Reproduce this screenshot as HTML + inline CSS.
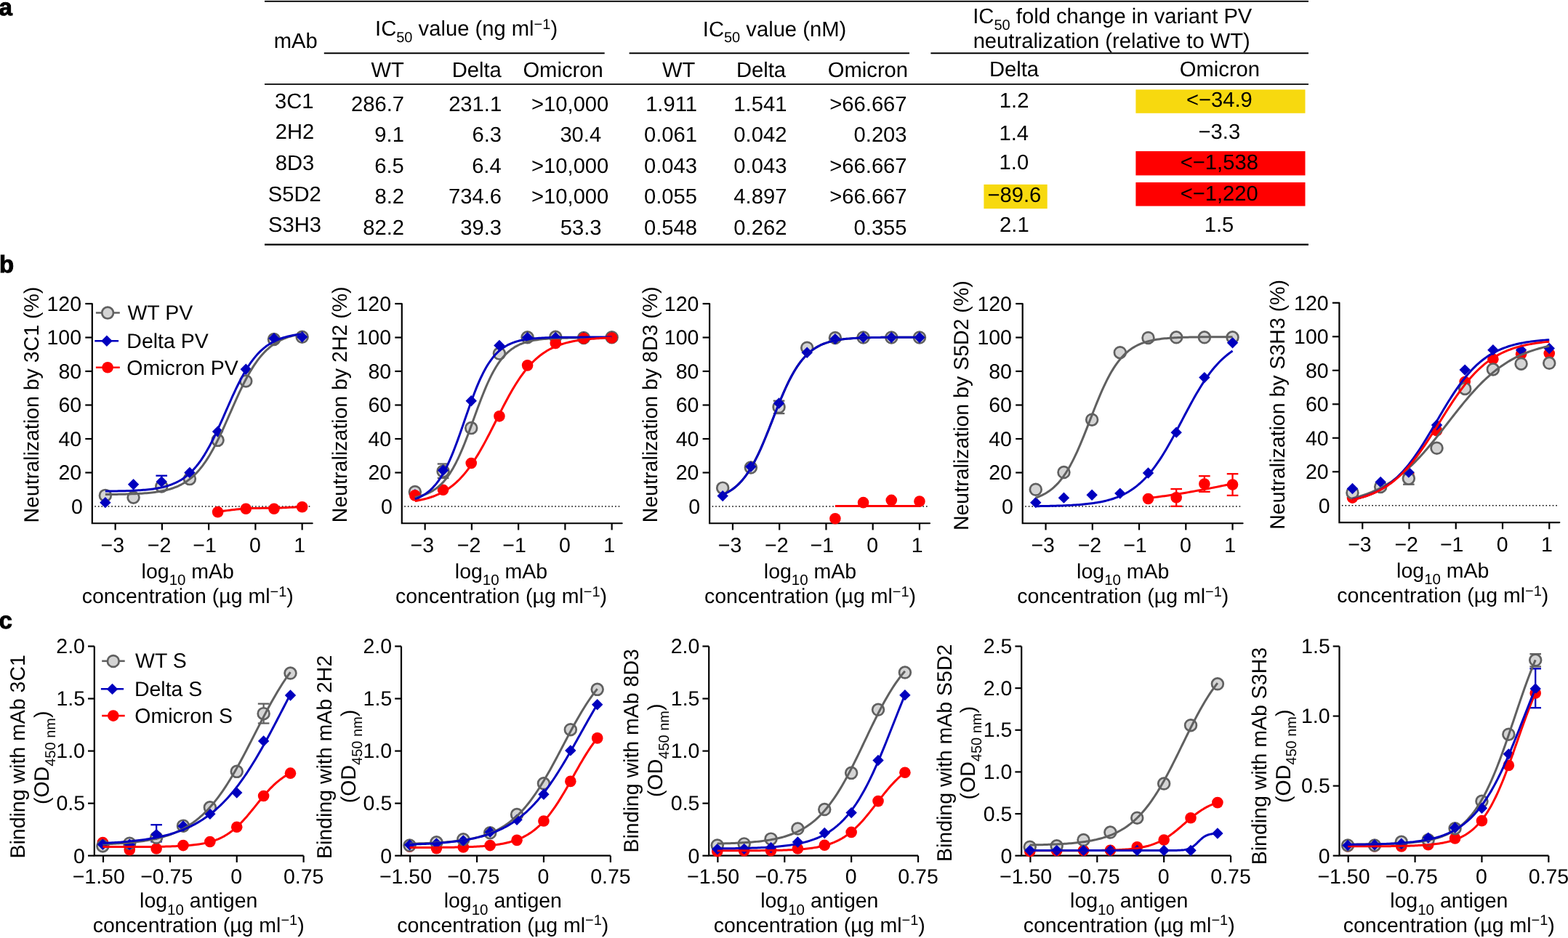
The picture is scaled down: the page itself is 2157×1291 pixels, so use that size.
<!DOCTYPE html>
<html><head><meta charset="utf-8"><title>Figure</title>
<style>
html,body{margin:0;padding:0;background:#fff;overflow:hidden;}
svg{display:block;}

</style></head>
<body>
<svg width="2157" height="1291" viewBox="0 0 2157 1291" font-family="'Liberation Sans', Arial, Helvetica, sans-serif" font-size="28.5" fill="#000" text-rendering="geometricPrecision">
<rect width="2157" height="1291" fill="#fff"/>
<rect x="364" y="0" width="1436" height="0.9" fill="#d8d8d8"/>
<line x1="364" y1="1.85" x2="1800" y2="1.85" stroke="#000" stroke-width="1.9" />
<line x1="445.8" y1="73.3" x2="831.7" y2="73.3" stroke="#000" stroke-width="1.9" />
<line x1="865.6" y1="73.3" x2="1251" y2="73.3" stroke="#000" stroke-width="1.9" />
<line x1="1280.4" y1="73.3" x2="1800" y2="73.3" stroke="#000" stroke-width="1.9" />
<line x1="364" y1="115.9" x2="1800" y2="115.9" stroke="#000" stroke-width="1.9" />
<line x1="364" y1="336.7" x2="1800" y2="336.7" stroke="#000" stroke-width="2.2" />
<rect x="1562.4" y="123.3" width="233.1" height="32.5" fill="#F7D90F"/>
<rect x="1562.4" y="208.1" width="233.1" height="33.3" fill="#FF0000"/>
<rect x="1562.4" y="251" width="233.1" height="32.6" fill="#FF0000"/>
<rect x="1353.4" y="253.9" width="87.3" height="33.3" fill="#F7D90F"/>
<text x="376.68" y="65.8" font-size="29.2" >mAb</text>
<text x="641.6" y="49.1" text-anchor="middle" font-size="29.2" >IC<tspan dy="8.6" font-size="20">50</tspan><tspan dy="-8.6"> value (ng ml<tspan dy="-9.6" font-size="20">−1</tspan><tspan dy="9.6">)</tspan></tspan></text>
<text x="1065.5" y="49.7" text-anchor="middle" font-size="29.2" >IC<tspan dy="8.6" font-size="20">50</tspan><tspan dy="-8.6"> value (nM)</tspan></text>
<text x="1530.3" y="31.9" text-anchor="middle" font-size="29.2" >IC<tspan dy="8.6" font-size="20">50</tspan><tspan dy="-8.6"> fold change in variant PV</tspan></text>
<text x="1338.64" y="65.8" font-size="29.2" >neutralization (relative to WT)</text>
<text x="510.5" y="105.8" font-size="29.2" >WT</text>
<text x="621.69" y="105.8" font-size="29.2" >Delta</text>
<text x="719.4" y="105.8" font-size="29.2" >Omicron</text>
<text x="911" y="105.8" font-size="29.2" >WT</text>
<text x="1012.89" y="105.8" font-size="29.2" >Delta</text>
<text x="1138.8" y="105.8" font-size="29.2" >Omicron</text>
<text x="1360.89" y="105.2" font-size="29.2" >Delta</text>
<text x="1622.8" y="105.2" font-size="29.2" >Omicron</text>
<text x="377.91" y="148.7" font-size="29.2" >3C1</text>
<text x="482.98" y="152.7" font-size="29.2" >286.7</text>
<text x="617.15" y="152.7" font-size="29.2" >231.1</text>
<text x="731.02" y="152.7" font-size="29.2" >&gt;10,000</text>
<text x="959" y="152.7" text-anchor="end" font-size="29.2" >1.911</text>
<text x="1082.4" y="152.7" text-anchor="end" font-size="29.2" >1.541</text>
<text x="1247.6" y="152.7" text-anchor="end" font-size="29.2" >&gt;66.667</text>
<text x="1374.81" y="148.1" font-size="29.2" >1.2</text>
<text x="1631.94" y="147.4" font-size="29.2" >&lt;−34.9</text>
<text x="378.69" y="191.1" font-size="29.2" >2H2</text>
<text x="515.35" y="195" font-size="29.2" >9.1</text>
<text x="649.52" y="195" font-size="29.2" >6.3</text>
<text x="770.4" y="195" font-size="29.2" >30.4</text>
<text x="959" y="195" text-anchor="end" font-size="29.2" >0.061</text>
<text x="1082.4" y="195" text-anchor="end" font-size="29.2" >0.042</text>
<text x="1247.6" y="195" text-anchor="end" font-size="29.2" >0.203</text>
<text x="1374.5" y="193" font-size="29.2" >1.4</text>
<text x="1648.56" y="190.8" font-size="29.2" >−3.3</text>
<text x="378.69" y="234" font-size="29.2" >8D3</text>
<text x="515.23" y="238" font-size="29.2" >6.5</text>
<text x="649.15" y="238" font-size="29.2" >6.4</text>
<text x="731.02" y="238" font-size="29.2" >&gt;10,000</text>
<text x="959" y="238" text-anchor="end" font-size="29.2" >0.043</text>
<text x="1082.4" y="238" text-anchor="end" font-size="29.2" >0.043</text>
<text x="1247.6" y="238" text-anchor="end" font-size="29.2" >&gt;66.667</text>
<text x="1374.62" y="233.4" font-size="29.2" >1.0</text>
<text x="1623.75" y="233.4" font-size="29.2" >&lt;−1,538</text>
<text x="368.7" y="276.6" font-size="29.2" >S5D2</text>
<text x="515.48" y="280.4" font-size="29.2" >8.2</text>
<text x="617.02" y="280.4" font-size="29.2" >734.6</text>
<text x="731.02" y="280.4" font-size="29.2" >&gt;10,000</text>
<text x="959" y="280.4" text-anchor="end" font-size="29.2" >0.055</text>
<text x="1082.4" y="280.4" text-anchor="end" font-size="29.2" >4.897</text>
<text x="1247.6" y="280.4" text-anchor="end" font-size="29.2" >&gt;66.667</text>
<text x="1358.44" y="278.3" font-size="29.2" >−89.6</text>
<text x="1623.69" y="276.3" font-size="29.2" >&lt;−1,220</text>
<text x="369.07" y="319" font-size="29.2" >S3H3</text>
<text x="499.23" y="323" font-size="29.2" >82.2</text>
<text x="633.27" y="323" font-size="29.2" >39.3</text>
<text x="770.77" y="323" font-size="29.2" >53.3</text>
<text x="959" y="323" text-anchor="end" font-size="29.2" >0.548</text>
<text x="1082.4" y="323" text-anchor="end" font-size="29.2" >0.262</text>
<text x="1247.6" y="323" text-anchor="end" font-size="29.2" >0.355</text>
<text x="1375.12" y="319.3" font-size="29.2" >2.1</text>
<text x="1656.69" y="318.5" font-size="29.2" >1.5</text>
<text x="-1.6" y="20.6" font-size="33" font-weight="bold" stroke="#000" stroke-width="1">a</text>
<text x="-1.0" y="374.6" font-size="33" font-weight="bold" stroke="#000" stroke-width="1">b</text>
<text x="-1.6" y="865.4" font-size="33" font-weight="bold" stroke="#000" stroke-width="1">c</text>
<line x1="130.3" y1="697" x2="427.5" y2="697" stroke="#000" stroke-width="1.6" stroke-dasharray="1.6 3"/>
<path d="M126.8 418V720.25H429.7" fill="none" stroke="#000" stroke-width="2.2" stroke-linejoin="miter" stroke-linecap="round"/>
<text x="98.05" y="706.81" >0</text>
<line x1="117.3" y1="650.5" x2="126.8" y2="650.5" stroke="#000" stroke-width="2.2" />
<text x="80.38" y="660.31" >20</text>
<line x1="117.3" y1="604" x2="126.8" y2="604" stroke="#000" stroke-width="2.2" />
<text x="80.38" y="613.81" >40</text>
<line x1="117.3" y1="557.5" x2="126.8" y2="557.5" stroke="#000" stroke-width="2.2" />
<text x="80.38" y="567.31" >60</text>
<line x1="117.3" y1="511" x2="126.8" y2="511" stroke="#000" stroke-width="2.2" />
<text x="80.38" y="520.81" >80</text>
<line x1="117.3" y1="464.5" x2="126.8" y2="464.5" stroke="#000" stroke-width="2.2" />
<text x="64.5" y="474.31" >100</text>
<line x1="117.3" y1="418" x2="126.8" y2="418" stroke="#000" stroke-width="2.2" />
<text x="64.5" y="427.81" >120</text>
<line x1="158.65" y1="720.25" x2="158.65" y2="729.45" stroke="#000" stroke-width="2.2" />
<text x="138.54" y="759.6" >−3</text>
<line x1="222.9" y1="720.25" x2="222.9" y2="729.45" stroke="#000" stroke-width="2.2" />
<text x="202.81" y="759.6" >−2</text>
<line x1="287.15" y1="720.25" x2="287.15" y2="729.45" stroke="#000" stroke-width="2.2" />
<text x="265.3" y="759.6" >−1</text>
<line x1="351.4" y1="720.25" x2="351.4" y2="729.45" stroke="#000" stroke-width="2.2" />
<text x="343.06" y="759.6" >0</text>
<line x1="415.65" y1="720.25" x2="415.65" y2="729.45" stroke="#000" stroke-width="2.2" />
<text x="404.34" y="759.6" >1</text>
<text transform="translate(52.8 557.1) rotate(-90)" text-anchor="middle">Neutralization by 3C1 (%)</text>
<text x="258.3" y="795.9" text-anchor="middle" >log<tspan dy="9.2" font-size="20.5">10</tspan><tspan dy="-9.2"> mAb</tspan></text>
<text x="258.3" y="830.1" text-anchor="middle" >concentration (µg ml<tspan dy="-9.6" font-size="20">−1</tspan><tspan dy="9.6">)</tspan></text>
<line x1="222.24" y1="654.7" x2="222.24" y2="671.3" stroke="#0000BE" stroke-width="2.3" />
<line x1="214.44" y1="654.7" x2="230.04" y2="654.7" stroke="#0000BE" stroke-width="2.3" />
<line x1="214.44" y1="671.3" x2="230.04" y2="671.3" stroke="#0000BE" stroke-width="2.3" />
<circle cx="144.87" cy="681.89" r="7.9" fill="#D4D4D4" stroke="#606060" stroke-width="2.7"/>
<circle cx="183.56" cy="684.68" r="7.9" fill="#D4D4D4" stroke="#606060" stroke-width="2.7"/>
<circle cx="222.24" cy="669.57" r="7.9" fill="#D4D4D4" stroke="#606060" stroke-width="2.7"/>
<circle cx="260.92" cy="659.1" r="7.9" fill="#D4D4D4" stroke="#606060" stroke-width="2.7"/>
<circle cx="299.6" cy="605.86" r="7.9" fill="#D4D4D4" stroke="#606060" stroke-width="2.7"/>
<circle cx="338.29" cy="524.49" r="7.9" fill="#D4D4D4" stroke="#606060" stroke-width="2.7"/>
<circle cx="376.97" cy="467.06" r="7.9" fill="#D4D4D4" stroke="#606060" stroke-width="2.7"/>
<circle cx="415.65" cy="463.8" r="7.9" fill="#D4D4D4" stroke="#606060" stroke-width="2.7"/>
<path d="M144.87 683.95L152.57 691.65L144.87 699.35L137.17 691.65Z" fill="#0000BE"/>
<path d="M183.56 659.07L191.26 666.77L183.56 674.48L175.86 666.77Z" fill="#0000BE"/>
<path d="M222.24 655.35L229.94 663.05L222.24 670.75L214.54 663.05Z" fill="#0000BE"/>
<path d="M260.92 642.8L268.62 650.5L260.92 658.2L253.22 650.5Z" fill="#0000BE"/>
<path d="M299.6 586.3L307.3 594L299.6 601.7L291.9 594Z" fill="#0000BE"/>
<path d="M338.29 500.51L345.99 508.21L338.29 515.91L330.59 508.21Z" fill="#0000BE"/>
<path d="M376.97 457.96L384.67 465.66L376.97 473.36L369.27 465.66Z" fill="#0000BE"/>
<path d="M415.65 456.1L423.35 463.8L415.65 471.5L407.95 463.8Z" fill="#0000BE"/>
<circle cx="299.6" cy="704.67" r="7.8" fill="#FF0000"/>
<circle cx="338.29" cy="700.25" r="7.8" fill="#FF0000"/>
<circle cx="376.97" cy="700.25" r="7.8" fill="#FF0000"/>
<circle cx="415.65" cy="697.7" r="7.8" fill="#FF0000"/>
<path d="M144.87 680.6 L147.15 680.58 L149.42 680.56 L151.7 680.53 L153.98 680.5 L156.25 680.47 L158.53 680.44 L160.8 680.4 L163.08 680.36 L165.35 680.32 L167.63 680.27 L169.9 680.22 L172.18 680.16 L174.45 680.1 L176.73 680.03 L179.01 679.96 L181.28 679.87 L183.56 679.78 L185.83 679.68 L188.11 679.57 L190.38 679.45 L192.66 679.32 L194.93 679.18 L197.21 679.03 L199.48 678.85 L201.76 678.67 L204.03 678.46 L206.31 678.24 L208.59 677.99 L210.86 677.72 L213.14 677.43 L215.41 677.11 L217.69 676.76 L219.96 676.38 L222.24 675.96 L224.51 675.5 L226.79 675.01 L229.06 674.46 L231.34 673.87 L233.62 673.22 L235.89 672.52 L238.17 671.76 L240.44 670.92 L242.72 670.02 L244.99 669.03 L247.27 667.96 L249.54 666.8 L251.82 665.55 L254.09 664.19 L256.37 662.72 L258.65 661.13 L260.92 659.41 L263.2 657.57 L265.47 655.58 L267.75 653.45 L270.02 651.16 L272.3 648.72 L274.57 646.11 L276.85 643.32 L279.12 640.37 L281.4 637.23 L283.67 633.91 L285.95 630.41 L288.23 626.72 L290.5 622.86 L292.78 618.81 L295.05 614.6 L297.33 610.23 L299.6 605.7 L301.88 601.04 L304.15 596.24 L306.43 591.33 L308.7 586.34 L310.98 581.26 L313.26 576.13 L315.53 570.97 L317.81 565.79 L320.08 560.63 L322.36 555.49 L324.63 550.41 L326.91 545.4 L329.18 540.48 L331.46 535.67 L333.73 530.98 L336.01 526.44 L338.29 522.04 L340.56 517.81 L342.84 513.75 L345.11 509.86 L347.39 506.15 L349.66 502.62 L351.94 499.28 L354.21 496.12 L356.49 493.14 L358.76 490.33 L361.04 487.7 L363.32 485.23 L365.59 482.92 L367.87 480.77 L370.14 478.77 L372.42 476.9 L374.69 475.17 L376.97 473.57 L379.24 472.08 L381.52 470.71 L383.79 469.44 L386.07 468.27 L388.34 467.19 L390.62 466.19 L392.9 465.27 L395.17 464.43 L397.45 463.66 L399.72 462.95 L402 462.29 L404.27 461.69 L406.55 461.14 L408.82 460.64 L411.1 460.18 L413.37 459.76 L415.65 459.37" fill="none" stroke="#606060" stroke-width="3.0" stroke-linejoin="round"/>
<path d="M144.87 676.11 L147.15 676.09 L149.42 676.06 L151.7 676.04 L153.98 676.01 L156.25 675.98 L158.53 675.94 L160.8 675.9 L163.08 675.86 L165.35 675.81 L167.63 675.76 L169.9 675.7 L172.18 675.64 L174.45 675.57 L176.73 675.49 L179.01 675.41 L181.28 675.32 L183.56 675.22 L185.83 675.11 L188.11 674.99 L190.38 674.85 L192.66 674.71 L194.93 674.55 L197.21 674.37 L199.48 674.18 L201.76 673.97 L204.03 673.73 L206.31 673.48 L208.59 673.2 L210.86 672.89 L213.14 672.56 L215.41 672.19 L217.69 671.79 L219.96 671.35 L222.24 670.86 L224.51 670.34 L226.79 669.76 L229.06 669.13 L231.34 668.44 L233.62 667.69 L235.89 666.86 L238.17 665.97 L240.44 664.99 L242.72 663.93 L244.99 662.78 L247.27 661.53 L249.54 660.17 L251.82 658.69 L254.09 657.09 L256.37 655.37 L258.65 653.5 L260.92 651.5 L263.2 649.34 L265.47 647.02 L267.75 644.53 L270.02 641.87 L272.3 639.03 L274.57 636.01 L276.85 632.81 L279.12 629.42 L281.4 625.83 L283.67 622.06 L285.95 618.11 L288.23 613.98 L290.5 609.67 L292.78 605.2 L295.05 600.58 L297.33 595.83 L299.6 590.95 L301.88 585.97 L304.15 580.91 L306.43 575.78 L308.7 570.61 L310.98 565.43 L313.26 560.25 L315.53 555.1 L317.81 550 L320.08 544.97 L322.36 540.03 L324.63 535.21 L326.91 530.52 L329.18 525.97 L331.46 521.57 L333.73 517.35 L336.01 513.29 L338.29 509.43 L340.56 505.74 L342.84 502.25 L345.11 498.94 L347.39 495.82 L349.66 492.89 L351.94 490.13 L354.21 487.56 L356.49 485.15 L358.76 482.9 L361.04 480.81 L363.32 478.87 L365.59 477.08 L367.87 475.41 L370.14 473.87 L372.42 472.45 L374.69 471.14 L376.97 469.93 L379.24 468.82 L381.52 467.8 L383.79 466.87 L386.07 466.01 L388.34 465.22 L390.62 464.5 L392.9 463.83 L395.17 463.23 L397.45 462.67 L399.72 462.17 L402 461.71 L404.27 461.28 L406.55 460.9 L408.82 460.54 L411.1 460.22 L413.37 459.93 L415.65 459.66" fill="none" stroke="#0000BE" stroke-width="3.0" stroke-linejoin="round"/>
<path d="M299.8 704.2 L303 703.83 L306.2 703.44 L309.39 703.04 L312.59 702.63 L315.78 702.23 L318.98 701.82 L322.18 701.44 L325.38 701.07 L328.58 700.72 L331.78 700.41 L334.99 700.13 L338.2 699.9 L341.41 699.72 L344.63 699.58 L347.85 699.49 L351.07 699.43 L354.29 699.39 L357.51 699.38 L360.74 699.37 L363.97 699.36 L367.2 699.35 L370.43 699.32 L373.66 699.27 L376.9 699.2 L380.14 699.1 L383.38 699 L386.63 698.88 L389.88 698.76 L393.13 698.63 L396.38 698.5 L399.63 698.37 L402.89 698.23 L406.14 698.09 L409.4 697.96 L412.65 697.83 L415.9 697.7" fill="none" stroke="#FF0000" stroke-width="3.0" stroke-linejoin="round"/>
<line x1="131.9" y1="430.5" x2="164.8" y2="430.5" stroke="#606060" stroke-width="2.6" />
<circle cx="148.1" cy="430.6" r="7.9" fill="#D4D4D4" stroke="#606060" stroke-width="2.7"/>
<text x="175.47" y="440" >WT PV</text>
<line x1="130.3" y1="469.2" x2="163.1" y2="469.2" stroke="#0000BE" stroke-width="2.6" />
<path d="M146.9 461.5L154.6 469.2L146.9 476.9L139.2 469.2Z" fill="#0000BE"/>
<text x="174.32" y="478.8" >Delta PV</text>
<line x1="131.9" y1="505.7" x2="164.8" y2="505.7" stroke="#FF0000" stroke-width="2.6" />
<circle cx="148.1" cy="505.7" r="7.8" fill="#FF0000"/>
<text x="174.22" y="515.5" >Omicron PV</text>
<line x1="556.3" y1="697" x2="853.5" y2="697" stroke="#000" stroke-width="1.6" stroke-dasharray="1.6 3"/>
<path d="M552.8 418V720.25H855.7" fill="none" stroke="#000" stroke-width="2.2" stroke-linejoin="miter" stroke-linecap="round"/>
<text x="524.05" y="706.81" >0</text>
<line x1="543.3" y1="650.5" x2="552.8" y2="650.5" stroke="#000" stroke-width="2.2" />
<text x="506.38" y="660.31" >20</text>
<line x1="543.3" y1="604" x2="552.8" y2="604" stroke="#000" stroke-width="2.2" />
<text x="506.38" y="613.81" >40</text>
<line x1="543.3" y1="557.5" x2="552.8" y2="557.5" stroke="#000" stroke-width="2.2" />
<text x="506.38" y="567.31" >60</text>
<line x1="543.3" y1="511" x2="552.8" y2="511" stroke="#000" stroke-width="2.2" />
<text x="506.38" y="520.81" >80</text>
<line x1="543.3" y1="464.5" x2="552.8" y2="464.5" stroke="#000" stroke-width="2.2" />
<text x="490.5" y="474.31" >100</text>
<line x1="543.3" y1="418" x2="552.8" y2="418" stroke="#000" stroke-width="2.2" />
<text x="490.5" y="427.81" >120</text>
<line x1="584.65" y1="720.25" x2="584.65" y2="729.45" stroke="#000" stroke-width="2.2" />
<text x="564.54" y="759.6" >−3</text>
<line x1="648.9" y1="720.25" x2="648.9" y2="729.45" stroke="#000" stroke-width="2.2" />
<text x="628.81" y="759.6" >−2</text>
<line x1="713.15" y1="720.25" x2="713.15" y2="729.45" stroke="#000" stroke-width="2.2" />
<text x="691.3" y="759.6" >−1</text>
<line x1="777.4" y1="720.25" x2="777.4" y2="729.45" stroke="#000" stroke-width="2.2" />
<text x="769.06" y="759.6" >0</text>
<line x1="841.65" y1="720.25" x2="841.65" y2="729.45" stroke="#000" stroke-width="2.2" />
<text x="830.34" y="759.6" >1</text>
<text transform="translate(476.6 556.8) rotate(-90)" text-anchor="middle">Neutralization by 2H2 (%)</text>
<text x="689.5" y="795.9" text-anchor="middle" >log<tspan dy="9.2" font-size="20.5">10</tspan><tspan dy="-9.2"> mAb</tspan></text>
<text x="689.5" y="830.1" text-anchor="middle" >concentration (µg ml<tspan dy="-9.6" font-size="20">−1</tspan><tspan dy="9.6">)</tspan></text>
<line x1="609.56" y1="638.5" x2="609.56" y2="658" stroke="#606060" stroke-width="2.3" />
<line x1="601.76" y1="638.5" x2="617.36" y2="638.5" stroke="#606060" stroke-width="2.3" />
<line x1="601.76" y1="658" x2="617.36" y2="658" stroke="#606060" stroke-width="2.3" />
<circle cx="570.87" cy="677" r="7.9" fill="#D4D4D4" stroke="#606060" stroke-width="2.7"/>
<circle cx="609.56" cy="648.64" r="7.9" fill="#D4D4D4" stroke="#606060" stroke-width="2.7"/>
<circle cx="648.24" cy="589.12" r="7.9" fill="#D4D4D4" stroke="#606060" stroke-width="2.7"/>
<circle cx="686.92" cy="486.59" r="7.9" fill="#D4D4D4" stroke="#606060" stroke-width="2.7"/>
<circle cx="725.6" cy="464.27" r="7.9" fill="#D4D4D4" stroke="#606060" stroke-width="2.7"/>
<circle cx="764.29" cy="463.8" r="7.9" fill="#D4D4D4" stroke="#606060" stroke-width="2.7"/>
<circle cx="802.97" cy="464.96" r="7.9" fill="#D4D4D4" stroke="#606060" stroke-width="2.7"/>
<circle cx="841.65" cy="464.27" r="7.9" fill="#D4D4D4" stroke="#606060" stroke-width="2.7"/>
<path d="M570.87 673.02L578.57 680.73L570.87 688.43L563.17 680.73Z" fill="#0000BE"/>
<path d="M609.56 639.54L617.26 647.25L609.56 654.95L601.86 647.25Z" fill="#0000BE"/>
<path d="M648.24 543.99L655.94 551.69L648.24 559.39L640.54 551.69Z" fill="#0000BE"/>
<path d="M686.92 467.73L694.62 475.43L686.92 483.13L679.22 475.43Z" fill="#0000BE"/>
<path d="M725.6 456.8L733.3 464.5L725.6 472.2L717.9 464.5Z" fill="#0000BE"/>
<path d="M764.29 456.8L771.99 464.5L764.29 472.2L756.59 464.5Z" fill="#0000BE"/>
<path d="M802.97 456.8L810.67 464.5L802.97 472.2L795.27 464.5Z" fill="#0000BE"/>
<path d="M841.65 456.8L849.35 464.5L841.65 472.2L833.95 464.5Z" fill="#0000BE"/>
<circle cx="570.87" cy="681.89" r="7.8" fill="#FF0000"/>
<circle cx="609.56" cy="674.22" r="7.8" fill="#FF0000"/>
<circle cx="648.24" cy="637.48" r="7.8" fill="#FF0000"/>
<circle cx="686.92" cy="572.85" r="7.8" fill="#FF0000"/>
<circle cx="725.6" cy="502.86" r="7.8" fill="#FF0000"/>
<circle cx="764.29" cy="472.4" r="7.8" fill="#FF0000"/>
<circle cx="802.97" cy="465.66" r="7.8" fill="#FF0000"/>
<circle cx="841.65" cy="464.96" r="7.8" fill="#FF0000"/>
<path d="M570.87 684.41 L573.15 683.93 L575.42 683.41 L577.7 682.82 L579.98 682.17 L582.25 681.44 L584.53 680.64 L586.8 679.74 L589.08 678.75 L591.35 677.65 L593.63 676.43 L595.9 675.09 L598.18 673.6 L600.45 671.97 L602.73 670.16 L605.01 668.18 L607.28 666.01 L609.56 663.64 L611.83 661.05 L614.11 658.23 L616.38 655.17 L618.66 651.86 L620.93 648.28 L623.21 644.45 L625.48 640.34 L627.76 635.96 L630.03 631.31 L632.31 626.39 L634.59 621.23 L636.86 615.83 L639.14 610.21 L641.41 604.4 L643.69 598.43 L645.96 592.32 L648.24 586.12 L650.51 579.86 L652.79 573.57 L655.06 567.31 L657.34 561.1 L659.62 554.99 L661.89 549.01 L664.17 543.19 L666.44 537.57 L668.72 532.16 L670.99 526.99 L673.27 522.07 L675.54 517.41 L677.82 513.02 L680.09 508.9 L682.37 505.05 L684.65 501.47 L686.92 498.15 L689.2 495.08 L691.47 492.25 L693.75 489.65 L696.02 487.27 L698.3 485.09 L700.57 483.11 L702.85 481.3 L705.12 479.65 L707.4 478.16 L709.67 476.81 L711.95 475.59 L714.23 474.49 L716.5 473.49 L718.78 472.59 L721.05 471.79 L723.33 471.06 L725.6 470.4 L727.88 469.81 L730.15 469.29 L732.43 468.81 L734.7 468.38 L736.98 468 L739.26 467.66 L741.53 467.35 L743.81 467.08 L746.08 466.83 L748.36 466.61 L750.63 466.41 L752.91 466.24 L755.18 466.08 L757.46 465.94 L759.73 465.81 L762.01 465.69 L764.29 465.59 L766.56 465.5 L768.84 465.42 L771.11 465.35 L773.39 465.28 L775.66 465.23 L777.94 465.17 L780.21 465.13 L782.49 465.09 L784.76 465.05 L787.04 465.02 L789.32 464.99 L791.59 464.96 L793.87 464.94 L796.14 464.91 L798.42 464.9 L800.69 464.88 L802.97 464.86 L805.24 464.85 L807.52 464.84 L809.79 464.83 L812.07 464.82 L814.34 464.81 L816.62 464.8 L818.9 464.79 L821.17 464.79 L823.45 464.78 L825.72 464.78 L828 464.77 L830.27 464.77 L832.55 464.77 L834.82 464.76 L837.1 464.76 L839.37 464.76 L841.65 464.75" fill="none" stroke="#606060" stroke-width="3.0" stroke-linejoin="round"/>
<path d="M570.87 686.88 L573.15 686.04 L575.42 685.11 L577.7 684.08 L579.98 682.93 L582.25 681.65 L584.53 680.23 L586.8 678.67 L589.08 676.94 L591.35 675.03 L593.63 672.93 L595.9 670.62 L598.18 668.09 L600.45 665.33 L602.73 662.31 L605.01 659.04 L607.28 655.49 L609.56 651.66 L611.83 647.54 L614.11 643.12 L616.38 638.42 L618.66 633.42 L620.93 628.15 L623.21 622.61 L625.48 616.82 L627.76 610.81 L630.03 604.61 L632.31 598.25 L634.59 591.76 L636.86 585.19 L639.14 578.57 L641.41 571.97 L643.69 565.4 L645.96 558.93 L648.24 552.58 L650.51 546.4 L652.79 540.42 L655.06 534.67 L657.34 529.16 L659.62 523.93 L661.89 518.97 L664.17 514.3 L666.44 509.93 L668.72 505.85 L670.99 502.05 L673.27 498.54 L675.54 495.3 L677.82 492.32 L680.09 489.59 L682.37 487.09 L684.65 484.81 L686.92 482.73 L689.2 480.85 L691.47 479.14 L693.75 477.6 L696.02 476.2 L698.3 474.94 L700.57 473.81 L702.85 472.79 L705.12 471.87 L707.4 471.05 L709.67 470.31 L711.95 469.64 L714.23 469.05 L716.5 468.51 L718.78 468.04 L721.05 467.61 L723.33 467.23 L725.6 466.89 L727.88 466.58 L730.15 466.31 L732.43 466.06 L734.7 465.85 L736.98 465.65 L739.26 465.48 L741.53 465.33 L743.81 465.19 L746.08 465.06 L748.36 464.95 L750.63 464.86 L752.91 464.77 L755.18 464.69 L757.46 464.62 L759.73 464.56 L762.01 464.5 L764.29 464.45 L766.56 464.41 L768.84 464.37 L771.11 464.34 L773.39 464.3 L775.66 464.28 L777.94 464.25 L780.21 464.23 L782.49 464.21 L784.76 464.19 L787.04 464.18 L789.32 464.16 L791.59 464.15 L793.87 464.14 L796.14 464.13 L798.42 464.12 L800.69 464.11 L802.97 464.11 L805.24 464.1 L807.52 464.09 L809.79 464.09 L812.07 464.09 L814.34 464.08 L816.62 464.08 L818.9 464.07 L821.17 464.07 L823.45 464.07 L825.72 464.07 L828 464.07 L830.27 464.06 L832.55 464.06 L834.82 464.06 L837.1 464.06 L839.37 464.06 L841.65 464.06" fill="none" stroke="#0000BE" stroke-width="3.0" stroke-linejoin="round"/>
<path d="M570.87 689.58 L573.15 689.19 L575.42 688.77 L577.7 688.32 L579.98 687.83 L582.25 687.31 L584.53 686.75 L586.8 686.14 L589.08 685.49 L591.35 684.79 L593.63 684.04 L595.9 683.24 L598.18 682.37 L600.45 681.44 L602.73 680.45 L605.01 679.38 L607.28 678.24 L609.56 677.02 L611.83 675.71 L614.11 674.32 L616.38 672.83 L618.66 671.25 L620.93 669.56 L623.21 667.77 L625.48 665.86 L627.76 663.84 L630.03 661.71 L632.31 659.44 L634.59 657.05 L636.86 654.54 L639.14 651.88 L641.41 649.1 L643.69 646.18 L645.96 643.12 L648.24 639.93 L650.51 636.6 L652.79 633.15 L655.06 629.56 L657.34 625.85 L659.62 622.01 L661.89 618.07 L664.17 614.02 L666.44 609.87 L668.72 605.63 L670.99 601.32 L673.27 596.95 L675.54 592.52 L677.82 588.05 L680.09 583.55 L682.37 579.04 L684.65 574.53 L686.92 570.03 L689.2 565.56 L691.47 561.14 L693.75 556.76 L696.02 552.46 L698.3 548.23 L700.57 544.08 L702.85 540.04 L705.12 536.1 L707.4 532.28 L709.67 528.57 L711.95 524.99 L714.23 521.54 L716.5 518.22 L718.78 515.04 L721.05 511.99 L723.33 509.08 L725.6 506.3 L727.88 503.66 L730.15 501.15 L732.43 498.77 L734.7 496.52 L736.98 494.39 L739.26 492.37 L741.53 490.48 L743.81 488.69 L746.08 487.01 L748.36 485.43 L750.63 483.95 L752.91 482.57 L755.18 481.27 L757.46 480.05 L759.73 478.91 L762.01 477.85 L764.29 476.86 L766.56 475.94 L768.84 475.07 L771.11 474.27 L773.39 473.52 L775.66 472.83 L777.94 472.18 L780.21 471.58 L782.49 471.02 L784.76 470.5 L787.04 470.01 L789.32 469.57 L791.59 469.15 L793.87 468.76 L796.14 468.4 L798.42 468.07 L800.69 467.76 L802.97 467.48 L805.24 467.21 L807.52 466.97 L809.79 466.74 L812.07 466.53 L814.34 466.33 L816.62 466.15 L818.9 465.98 L821.17 465.83 L823.45 465.69 L825.72 465.55 L828 465.43 L830.27 465.32 L832.55 465.21 L834.82 465.11 L837.1 465.02 L839.37 464.94 L841.65 464.86" fill="none" stroke="#FF0000" stroke-width="3.0" stroke-linejoin="round"/>
<line x1="979.6" y1="697" x2="1276.8" y2="697" stroke="#000" stroke-width="1.6" stroke-dasharray="1.6 3"/>
<path d="M976.1 418V720.25H1279" fill="none" stroke="#000" stroke-width="2.2" stroke-linejoin="miter" stroke-linecap="round"/>
<text x="947.35" y="706.81" >0</text>
<line x1="966.6" y1="650.5" x2="976.1" y2="650.5" stroke="#000" stroke-width="2.2" />
<text x="929.68" y="660.31" >20</text>
<line x1="966.6" y1="604" x2="976.1" y2="604" stroke="#000" stroke-width="2.2" />
<text x="929.68" y="613.81" >40</text>
<line x1="966.6" y1="557.5" x2="976.1" y2="557.5" stroke="#000" stroke-width="2.2" />
<text x="929.68" y="567.31" >60</text>
<line x1="966.6" y1="511" x2="976.1" y2="511" stroke="#000" stroke-width="2.2" />
<text x="929.68" y="520.81" >80</text>
<line x1="966.6" y1="464.5" x2="976.1" y2="464.5" stroke="#000" stroke-width="2.2" />
<text x="913.8" y="474.31" >100</text>
<line x1="966.6" y1="418" x2="976.1" y2="418" stroke="#000" stroke-width="2.2" />
<text x="913.8" y="427.81" >120</text>
<line x1="1007.95" y1="720.25" x2="1007.95" y2="729.45" stroke="#000" stroke-width="2.2" />
<text x="987.84" y="759.6" >−3</text>
<line x1="1072.2" y1="720.25" x2="1072.2" y2="729.45" stroke="#000" stroke-width="2.2" />
<text x="1052.11" y="759.6" >−2</text>
<line x1="1136.45" y1="720.25" x2="1136.45" y2="729.45" stroke="#000" stroke-width="2.2" />
<text x="1114.6" y="759.6" >−1</text>
<line x1="1200.7" y1="720.25" x2="1200.7" y2="729.45" stroke="#000" stroke-width="2.2" />
<text x="1192.36" y="759.6" >0</text>
<line x1="1264.95" y1="720.25" x2="1264.95" y2="729.45" stroke="#000" stroke-width="2.2" />
<text x="1253.64" y="759.6" >1</text>
<text transform="translate(903.7 556.8) rotate(-90)" text-anchor="middle">Neutralization by 8D3 (%)</text>
<text x="1114.5" y="795.9" text-anchor="middle" >log<tspan dy="9.2" font-size="20.5">10</tspan><tspan dy="-9.2"> mAb</tspan></text>
<text x="1114.5" y="830.1" text-anchor="middle" >concentration (µg ml<tspan dy="-9.6" font-size="20">−1</tspan><tspan dy="9.6">)</tspan></text>
<line x1="1071.54" y1="551.7" x2="1071.54" y2="569.1" stroke="#606060" stroke-width="2.3" />
<line x1="1063.74" y1="551.7" x2="1079.34" y2="551.7" stroke="#606060" stroke-width="2.3" />
<line x1="1063.74" y1="569.1" x2="1079.34" y2="569.1" stroke="#606060" stroke-width="2.3" />
<circle cx="994.17" cy="671.66" r="7.9" fill="#D4D4D4" stroke="#606060" stroke-width="2.7"/>
<circle cx="1032.86" cy="643.52" r="7.9" fill="#D4D4D4" stroke="#606060" stroke-width="2.7"/>
<circle cx="1071.54" cy="560.29" r="7.9" fill="#D4D4D4" stroke="#606060" stroke-width="2.7"/>
<circle cx="1110.22" cy="478.68" r="7.9" fill="#D4D4D4" stroke="#606060" stroke-width="2.7"/>
<circle cx="1148.9" cy="464.96" r="7.9" fill="#D4D4D4" stroke="#606060" stroke-width="2.7"/>
<circle cx="1187.59" cy="464.5" r="7.9" fill="#D4D4D4" stroke="#606060" stroke-width="2.7"/>
<circle cx="1226.27" cy="464.5" r="7.9" fill="#D4D4D4" stroke="#606060" stroke-width="2.7"/>
<circle cx="1264.95" cy="464.5" r="7.9" fill="#D4D4D4" stroke="#606060" stroke-width="2.7"/>
<path d="M994.17 674.88L1001.87 682.59L994.17 690.29L986.47 682.59Z" fill="#0000BE"/>
<path d="M1032.86 634.66L1040.56 642.36L1032.86 650.06L1025.16 642.36Z" fill="#0000BE"/>
<path d="M1071.54 547.24L1079.24 554.94L1071.54 562.64L1063.84 554.94Z" fill="#0000BE"/>
<path d="M1110.22 477.49L1117.92 485.19L1110.22 492.89L1102.52 485.19Z" fill="#0000BE"/>
<path d="M1148.9 458.89L1156.6 466.59L1148.9 474.29L1141.2 466.59Z" fill="#0000BE"/>
<path d="M1187.59 456.8L1195.29 464.5L1187.59 472.2L1179.89 464.5Z" fill="#0000BE"/>
<path d="M1226.27 456.8L1233.97 464.5L1226.27 472.2L1218.57 464.5Z" fill="#0000BE"/>
<path d="M1264.95 456.8L1272.65 464.5L1264.95 472.2L1257.25 464.5Z" fill="#0000BE"/>
<circle cx="1148.9" cy="713.74" r="7.8" fill="#FF0000"/>
<circle cx="1187.59" cy="691.65" r="7.8" fill="#FF0000"/>
<circle cx="1226.27" cy="688.4" r="7.8" fill="#FF0000"/>
<circle cx="1264.95" cy="690.02" r="7.8" fill="#FF0000"/>
<path d="M994.17 680.82 L996.45 679.82 L998.72 678.73 L1001 677.53 L1003.28 676.22 L1005.55 674.78 L1007.83 673.21 L1010.1 671.5 L1012.38 669.63 L1014.65 667.6 L1016.93 665.39 L1019.2 663.01 L1021.48 660.42 L1023.75 657.64 L1026.03 654.64 L1028.31 651.43 L1030.58 647.99 L1032.86 644.32 L1035.13 640.42 L1037.41 636.29 L1039.68 631.93 L1041.96 627.35 L1044.23 622.56 L1046.51 617.56 L1048.78 612.38 L1051.06 607.03 L1053.33 601.54 L1055.61 595.92 L1057.89 590.2 L1060.16 584.42 L1062.44 578.6 L1064.71 572.77 L1066.99 566.97 L1069.26 561.22 L1071.54 555.55 L1073.81 550 L1076.09 544.58 L1078.36 539.32 L1080.64 534.24 L1082.92 529.35 L1085.19 524.67 L1087.47 520.22 L1089.74 515.98 L1092.02 511.98 L1094.29 508.2 L1096.57 504.66 L1098.84 501.34 L1101.12 498.25 L1103.39 495.37 L1105.67 492.7 L1107.95 490.22 L1110.22 487.93 L1112.5 485.83 L1114.77 483.89 L1117.05 482.1 L1119.32 480.47 L1121.6 478.97 L1123.87 477.61 L1126.15 476.36 L1128.42 475.22 L1130.7 474.18 L1132.97 473.23 L1135.25 472.37 L1137.53 471.59 L1139.8 470.88 L1142.08 470.24 L1144.35 469.65 L1146.63 469.12 L1148.9 468.64 L1151.18 468.21 L1153.45 467.81 L1155.73 467.46 L1158 467.13 L1160.28 466.84 L1162.56 466.58 L1164.83 466.34 L1167.11 466.12 L1169.38 465.93 L1171.66 465.75 L1173.93 465.59 L1176.21 465.45 L1178.48 465.32 L1180.76 465.2 L1183.03 465.1 L1185.31 465 L1187.59 464.91 L1189.86 464.84 L1192.14 464.77 L1194.41 464.7 L1196.69 464.64 L1198.96 464.59 L1201.24 464.55 L1203.51 464.5 L1205.79 464.47 L1208.06 464.43 L1210.34 464.4 L1212.62 464.37 L1214.89 464.35 L1217.17 464.32 L1219.44 464.3 L1221.72 464.29 L1223.99 464.27 L1226.27 464.25 L1228.54 464.24 L1230.82 464.23 L1233.09 464.22 L1235.37 464.21 L1237.64 464.2 L1239.92 464.19 L1242.2 464.18 L1244.47 464.18 L1246.75 464.17 L1249.02 464.16 L1251.3 464.16 L1253.57 464.16 L1255.85 464.15 L1258.12 464.15 L1260.4 464.14 L1262.67 464.14 L1264.95 464.14" fill="none" stroke="#606060" stroke-width="3.0" stroke-linejoin="round"/>
<path d="M994.17 680.82 L996.45 679.82 L998.72 678.73 L1001 677.53 L1003.28 676.22 L1005.55 674.78 L1007.83 673.21 L1010.1 671.5 L1012.38 669.63 L1014.65 667.6 L1016.93 665.39 L1019.2 663.01 L1021.48 660.42 L1023.75 657.64 L1026.03 654.64 L1028.31 651.43 L1030.58 647.99 L1032.86 644.32 L1035.13 640.42 L1037.41 636.29 L1039.68 631.93 L1041.96 627.35 L1044.23 622.56 L1046.51 617.56 L1048.78 612.38 L1051.06 607.03 L1053.33 601.54 L1055.61 595.92 L1057.89 590.2 L1060.16 584.42 L1062.44 578.6 L1064.71 572.77 L1066.99 566.97 L1069.26 561.22 L1071.54 555.55 L1073.81 550 L1076.09 544.58 L1078.36 539.32 L1080.64 534.24 L1082.92 529.35 L1085.19 524.67 L1087.47 520.22 L1089.74 515.98 L1092.02 511.98 L1094.29 508.2 L1096.57 504.66 L1098.84 501.34 L1101.12 498.25 L1103.39 495.37 L1105.67 492.7 L1107.95 490.22 L1110.22 487.93 L1112.5 485.83 L1114.77 483.89 L1117.05 482.1 L1119.32 480.47 L1121.6 478.97 L1123.87 477.61 L1126.15 476.36 L1128.42 475.22 L1130.7 474.18 L1132.97 473.23 L1135.25 472.37 L1137.53 471.59 L1139.8 470.88 L1142.08 470.24 L1144.35 469.65 L1146.63 469.12 L1148.9 468.64 L1151.18 468.21 L1153.45 467.81 L1155.73 467.46 L1158 467.13 L1160.28 466.84 L1162.56 466.58 L1164.83 466.34 L1167.11 466.12 L1169.38 465.93 L1171.66 465.75 L1173.93 465.59 L1176.21 465.45 L1178.48 465.32 L1180.76 465.2 L1183.03 465.1 L1185.31 465 L1187.59 464.91 L1189.86 464.84 L1192.14 464.77 L1194.41 464.7 L1196.69 464.64 L1198.96 464.59 L1201.24 464.55 L1203.51 464.5 L1205.79 464.47 L1208.06 464.43 L1210.34 464.4 L1212.62 464.37 L1214.89 464.35 L1217.17 464.32 L1219.44 464.3 L1221.72 464.29 L1223.99 464.27 L1226.27 464.25 L1228.54 464.24 L1230.82 464.23 L1233.09 464.22 L1235.37 464.21 L1237.64 464.2 L1239.92 464.19 L1242.2 464.18 L1244.47 464.18 L1246.75 464.17 L1249.02 464.16 L1251.3 464.16 L1253.57 464.16 L1255.85 464.15 L1258.12 464.15 L1260.4 464.14 L1262.67 464.14 L1264.95 464.14" fill="none" stroke="#0000BE" stroke-width="3.0" stroke-linejoin="round"/>
<path d="M1148.9 696.6 L1158.57 696.6 L1168.24 696.6 L1177.91 696.6 L1187.59 696.6 L1197.26 696.6 L1206.93 696.6 L1216.6 696.6 L1226.27 696.6 L1235.94 696.6 L1245.61 696.6 L1255.28 696.6 L1264.95 696.6" fill="none" stroke="#FF0000" stroke-width="3.0" stroke-linejoin="round"/>
<line x1="1410.2" y1="697" x2="1707.4" y2="697" stroke="#000" stroke-width="1.6" stroke-dasharray="1.6 3"/>
<path d="M1406.7 418V720.25H1709.6" fill="none" stroke="#000" stroke-width="2.2" stroke-linejoin="miter" stroke-linecap="round"/>
<text x="1377.95" y="706.81" >0</text>
<line x1="1397.2" y1="650.5" x2="1406.7" y2="650.5" stroke="#000" stroke-width="2.2" />
<text x="1360.28" y="660.31" >20</text>
<line x1="1397.2" y1="604" x2="1406.7" y2="604" stroke="#000" stroke-width="2.2" />
<text x="1360.28" y="613.81" >40</text>
<line x1="1397.2" y1="557.5" x2="1406.7" y2="557.5" stroke="#000" stroke-width="2.2" />
<text x="1360.28" y="567.31" >60</text>
<line x1="1397.2" y1="511" x2="1406.7" y2="511" stroke="#000" stroke-width="2.2" />
<text x="1360.28" y="520.81" >80</text>
<line x1="1397.2" y1="464.5" x2="1406.7" y2="464.5" stroke="#000" stroke-width="2.2" />
<text x="1344.4" y="474.31" >100</text>
<line x1="1397.2" y1="418" x2="1406.7" y2="418" stroke="#000" stroke-width="2.2" />
<text x="1344.4" y="427.81" >120</text>
<line x1="1438.55" y1="720.25" x2="1438.55" y2="729.45" stroke="#000" stroke-width="2.2" />
<text x="1418.44" y="759.6" >−3</text>
<line x1="1502.8" y1="720.25" x2="1502.8" y2="729.45" stroke="#000" stroke-width="2.2" />
<text x="1482.71" y="759.6" >−2</text>
<line x1="1567.05" y1="720.25" x2="1567.05" y2="729.45" stroke="#000" stroke-width="2.2" />
<text x="1545.2" y="759.6" >−1</text>
<line x1="1631.3" y1="720.25" x2="1631.3" y2="729.45" stroke="#000" stroke-width="2.2" />
<text x="1622.96" y="759.6" >0</text>
<line x1="1695.55" y1="720.25" x2="1695.55" y2="729.45" stroke="#000" stroke-width="2.2" />
<text x="1684.24" y="759.6" >1</text>
<text transform="translate(1332.4 558.2) rotate(-90)" text-anchor="middle">Neutralization by S5D2 (%)</text>
<text x="1544.8" y="795.9" text-anchor="middle" >log<tspan dy="9.2" font-size="20.5">10</tspan><tspan dy="-9.2"> mAb</tspan></text>
<text x="1544.8" y="830.1" text-anchor="middle" >concentration (µg ml<tspan dy="-9.6" font-size="20">−1</tspan><tspan dy="9.6">)</tspan></text>
<line x1="1618.19" y1="673" x2="1618.19" y2="696.8" stroke="#FF0000" stroke-width="2.3" />
<line x1="1610.39" y1="673" x2="1625.99" y2="673" stroke="#FF0000" stroke-width="2.3" />
<line x1="1610.39" y1="696.8" x2="1625.99" y2="696.8" stroke="#FF0000" stroke-width="2.3" />
<line x1="1656.87" y1="655.2" x2="1656.87" y2="676.8" stroke="#FF0000" stroke-width="2.3" />
<line x1="1649.07" y1="655.2" x2="1664.67" y2="655.2" stroke="#FF0000" stroke-width="2.3" />
<line x1="1649.07" y1="676.8" x2="1664.67" y2="676.8" stroke="#FF0000" stroke-width="2.3" />
<line x1="1695.55" y1="652.2" x2="1695.55" y2="681.9" stroke="#FF0000" stroke-width="2.3" />
<line x1="1687.75" y1="652.2" x2="1703.35" y2="652.2" stroke="#FF0000" stroke-width="2.3" />
<line x1="1687.75" y1="681.9" x2="1703.35" y2="681.9" stroke="#FF0000" stroke-width="2.3" />
<circle cx="1424.77" cy="673.75" r="7.9" fill="#D4D4D4" stroke="#606060" stroke-width="2.7"/>
<circle cx="1463.46" cy="650.03" r="7.9" fill="#D4D4D4" stroke="#606060" stroke-width="2.7"/>
<circle cx="1502.14" cy="577.73" r="7.9" fill="#D4D4D4" stroke="#606060" stroke-width="2.7"/>
<circle cx="1540.82" cy="485.19" r="7.9" fill="#D4D4D4" stroke="#606060" stroke-width="2.7"/>
<circle cx="1579.5" cy="464.96" r="7.9" fill="#D4D4D4" stroke="#606060" stroke-width="2.7"/>
<circle cx="1618.19" cy="464.27" r="7.9" fill="#D4D4D4" stroke="#606060" stroke-width="2.7"/>
<circle cx="1656.87" cy="464.27" r="7.9" fill="#D4D4D4" stroke="#606060" stroke-width="2.7"/>
<circle cx="1695.55" cy="464.27" r="7.9" fill="#D4D4D4" stroke="#606060" stroke-width="2.7"/>
<path d="M1424.77 683.95L1432.47 691.65L1424.77 699.35L1417.07 691.65Z" fill="#0000BE"/>
<path d="M1463.46 677.44L1471.16 685.14L1463.46 692.84L1455.76 685.14Z" fill="#0000BE"/>
<path d="M1502.14 673.49L1509.84 681.19L1502.14 688.89L1494.44 681.19Z" fill="#0000BE"/>
<path d="M1540.82 671.4L1548.52 679.1L1540.82 686.8L1533.12 679.1Z" fill="#0000BE"/>
<path d="M1579.5 643.26L1587.2 650.97L1579.5 658.67L1571.8 650.97Z" fill="#0000BE"/>
<path d="M1618.19 587.46L1625.89 595.16L1618.19 602.87L1610.49 595.16Z" fill="#0000BE"/>
<path d="M1656.87 511.9L1664.57 519.6L1656.87 527.3L1649.17 519.6Z" fill="#0000BE"/>
<path d="M1695.55 464.01L1703.25 471.71L1695.55 479.41L1687.85 471.71Z" fill="#0000BE"/>
<circle cx="1579.5" cy="686.54" r="7.8" fill="#FF0000"/>
<circle cx="1618.19" cy="684.68" r="7.8" fill="#FF0000"/>
<circle cx="1656.87" cy="666.08" r="7.8" fill="#FF0000"/>
<circle cx="1695.55" cy="667.01" r="7.8" fill="#FF0000"/>
<path d="M1424.77 685.07 L1427.05 684.27 L1429.32 683.39 L1431.6 682.43 L1433.88 681.37 L1436.15 680.21 L1438.43 678.94 L1440.7 677.55 L1442.98 676.03 L1445.25 674.37 L1447.53 672.57 L1449.8 670.6 L1452.08 668.46 L1454.35 666.15 L1456.63 663.65 L1458.91 660.95 L1461.18 658.04 L1463.46 654.91 L1465.73 651.57 L1468.01 647.99 L1470.28 644.19 L1472.56 640.16 L1474.83 635.9 L1477.11 631.41 L1479.38 626.7 L1481.66 621.79 L1483.93 616.68 L1486.21 611.39 L1488.49 605.94 L1490.76 600.36 L1493.04 594.67 L1495.31 588.89 L1497.59 583.05 L1499.86 577.19 L1502.14 571.34 L1504.41 565.52 L1506.69 559.76 L1508.96 554.1 L1511.24 548.56 L1513.52 543.17 L1515.79 537.94 L1518.07 532.89 L1520.34 528.05 L1522.62 523.42 L1524.89 519.01 L1527.17 514.82 L1529.44 510.87 L1531.72 507.14 L1533.99 503.65 L1536.27 500.38 L1538.55 497.33 L1540.82 494.49 L1543.1 491.86 L1545.37 489.42 L1547.65 487.17 L1549.92 485.1 L1552.2 483.18 L1554.47 481.43 L1556.75 479.82 L1559.02 478.35 L1561.3 477 L1563.57 475.77 L1565.85 474.64 L1568.13 473.62 L1570.4 472.68 L1572.68 471.83 L1574.95 471.06 L1577.23 470.36 L1579.5 469.72 L1581.78 469.14 L1584.05 468.62 L1586.33 468.14 L1588.6 467.71 L1590.88 467.32 L1593.16 466.97 L1595.43 466.65 L1597.71 466.36 L1599.98 466.09 L1602.26 465.86 L1604.53 465.64 L1606.81 465.45 L1609.08 465.27 L1611.36 465.11 L1613.63 464.97 L1615.91 464.84 L1618.19 464.72 L1620.46 464.62 L1622.74 464.52 L1625.01 464.43 L1627.29 464.36 L1629.56 464.28 L1631.84 464.22 L1634.11 464.16 L1636.39 464.11 L1638.66 464.06 L1640.94 464.02 L1643.22 463.98 L1645.49 463.95 L1647.77 463.92 L1650.04 463.89 L1652.32 463.86 L1654.59 463.84 L1656.87 463.82 L1659.14 463.8 L1661.42 463.79 L1663.69 463.77 L1665.97 463.76 L1668.24 463.74 L1670.52 463.73 L1672.8 463.72 L1675.07 463.71 L1677.35 463.7 L1679.62 463.7 L1681.9 463.69 L1684.17 463.68 L1686.45 463.68 L1688.72 463.67 L1691 463.67 L1693.27 463.67 L1695.55 463.66" fill="none" stroke="#606060" stroke-width="3.0" stroke-linejoin="round"/>
<path d="M1424.77 696.69 L1427.05 696.67 L1429.32 696.64 L1431.6 696.61 L1433.88 696.57 L1436.15 696.53 L1438.43 696.49 L1440.7 696.45 L1442.98 696.41 L1445.25 696.36 L1447.53 696.3 L1449.8 696.25 L1452.08 696.19 L1454.35 696.12 L1456.63 696.05 L1458.91 695.97 L1461.18 695.89 L1463.46 695.8 L1465.73 695.71 L1468.01 695.61 L1470.28 695.5 L1472.56 695.38 L1474.83 695.25 L1477.11 695.12 L1479.38 694.97 L1481.66 694.81 L1483.93 694.64 L1486.21 694.46 L1488.49 694.27 L1490.76 694.06 L1493.04 693.83 L1495.31 693.59 L1497.59 693.33 L1499.86 693.05 L1502.14 692.75 L1504.41 692.43 L1506.69 692.09 L1508.96 691.72 L1511.24 691.32 L1513.52 690.9 L1515.79 690.44 L1518.07 689.95 L1520.34 689.43 L1522.62 688.87 L1524.89 688.27 L1527.17 687.63 L1529.44 686.94 L1531.72 686.21 L1533.99 685.43 L1536.27 684.59 L1538.55 683.69 L1540.82 682.74 L1543.1 681.72 L1545.37 680.63 L1547.65 679.47 L1549.92 678.24 L1552.2 676.93 L1554.47 675.54 L1556.75 674.06 L1559.02 672.5 L1561.3 670.83 L1563.57 669.08 L1565.85 667.21 L1568.13 665.25 L1570.4 663.18 L1572.68 660.99 L1574.95 658.69 L1577.23 656.28 L1579.5 653.74 L1581.78 651.08 L1584.05 648.31 L1586.33 645.41 L1588.6 642.39 L1590.88 639.24 L1593.16 635.98 L1595.43 632.6 L1597.71 629.1 L1599.98 625.49 L1602.26 621.78 L1604.53 617.96 L1606.81 614.06 L1609.08 610.06 L1611.36 605.99 L1613.63 601.85 L1615.91 597.65 L1618.19 593.4 L1620.46 589.11 L1622.74 584.79 L1625.01 580.45 L1627.29 576.11 L1629.56 571.78 L1631.84 567.47 L1634.11 563.19 L1636.39 558.94 L1638.66 554.75 L1640.94 550.62 L1643.22 546.57 L1645.49 542.59 L1647.77 538.7 L1650.04 534.9 L1652.32 531.21 L1654.59 527.62 L1656.87 524.15 L1659.14 520.79 L1661.42 517.55 L1663.69 514.43 L1665.97 511.43 L1668.24 508.55 L1670.52 505.8 L1672.8 503.17 L1675.07 500.66 L1677.35 498.26 L1679.62 495.99 L1681.9 493.82 L1684.17 491.77 L1686.45 489.83 L1688.72 487.98 L1691 486.24 L1693.27 484.6 L1695.55 483.05" fill="none" stroke="#0000BE" stroke-width="3.0" stroke-linejoin="round"/>
<path d="M1579.5 685.7 L1582.72 685.25 L1585.95 684.82 L1589.17 684.38 L1592.4 683.95 L1595.62 683.52 L1598.85 683.09 L1602.08 682.65 L1605.3 682.2 L1608.53 681.75 L1611.75 681.28 L1614.98 680.8 L1618.2 680.3 L1621.42 679.79 L1624.65 679.26 L1627.88 678.72 L1631.1 678.17 L1634.33 677.61 L1637.55 677.04 L1640.78 676.47 L1644 675.89 L1647.23 675.3 L1650.45 674.7 L1653.68 674.1 L1656.9 673.5 L1660.12 672.89 L1663.35 672.27 L1666.58 671.64 L1669.8 671 L1673.03 670.36 L1676.25 669.71 L1679.48 669.05 L1682.7 668.4 L1685.92 667.75 L1689.15 667.09 L1692.38 666.44 L1695.6 665.8" fill="none" stroke="#FF0000" stroke-width="3.0" stroke-linejoin="round"/>
<line x1="1845.9" y1="695.8" x2="2143.1" y2="695.8" stroke="#000" stroke-width="1.6" stroke-dasharray="1.6 3"/>
<path d="M1842.4 416.8V719.05H2145.3" fill="none" stroke="#000" stroke-width="2.2" stroke-linejoin="miter" stroke-linecap="round"/>
<text x="1813.65" y="705.61" >0</text>
<line x1="1832.9" y1="649.3" x2="1842.4" y2="649.3" stroke="#000" stroke-width="2.2" />
<text x="1795.98" y="659.11" >20</text>
<line x1="1832.9" y1="602.8" x2="1842.4" y2="602.8" stroke="#000" stroke-width="2.2" />
<text x="1795.98" y="612.61" >40</text>
<line x1="1832.9" y1="556.3" x2="1842.4" y2="556.3" stroke="#000" stroke-width="2.2" />
<text x="1795.98" y="566.11" >60</text>
<line x1="1832.9" y1="509.8" x2="1842.4" y2="509.8" stroke="#000" stroke-width="2.2" />
<text x="1795.98" y="519.61" >80</text>
<line x1="1832.9" y1="463.3" x2="1842.4" y2="463.3" stroke="#000" stroke-width="2.2" />
<text x="1780.1" y="473.11" >100</text>
<line x1="1832.9" y1="416.8" x2="1842.4" y2="416.8" stroke="#000" stroke-width="2.2" />
<text x="1780.1" y="426.61" >120</text>
<line x1="1874.25" y1="719.05" x2="1874.25" y2="728.25" stroke="#000" stroke-width="2.2" />
<text x="1854.14" y="758.8" >−3</text>
<line x1="1938.5" y1="719.05" x2="1938.5" y2="728.25" stroke="#000" stroke-width="2.2" />
<text x="1918.41" y="758.8" >−2</text>
<line x1="2002.75" y1="719.05" x2="2002.75" y2="728.25" stroke="#000" stroke-width="2.2" />
<text x="1980.9" y="758.8" >−1</text>
<line x1="2067" y1="719.05" x2="2067" y2="728.25" stroke="#000" stroke-width="2.2" />
<text x="2058.66" y="758.8" >0</text>
<line x1="2131.25" y1="719.05" x2="2131.25" y2="728.25" stroke="#000" stroke-width="2.2" />
<text x="2119.94" y="758.8" >1</text>
<text transform="translate(1767 556.9) rotate(-90)" text-anchor="middle">Neutralization by S3H3 (%)</text>
<text x="1984.8" y="795.1" text-anchor="middle" >log<tspan dy="9.2" font-size="20.5">10</tspan><tspan dy="-9.2"> mAb</tspan></text>
<text x="1984.8" y="829.3" text-anchor="middle" >concentration (µg ml<tspan dy="-9.6" font-size="20">−1</tspan><tspan dy="9.6">)</tspan></text>
<line x1="1937.84" y1="650.7" x2="1937.84" y2="666.7" stroke="#606060" stroke-width="2.3" />
<line x1="1930.04" y1="650.7" x2="1945.64" y2="650.7" stroke="#606060" stroke-width="2.3" />
<line x1="1930.04" y1="666.7" x2="1945.64" y2="666.7" stroke="#606060" stroke-width="2.3" />
<circle cx="1860.47" cy="685.1" r="7.8" fill="#FF0000"/>
<circle cx="1899.16" cy="668.83" r="7.8" fill="#FF0000"/>
<circle cx="1937.84" cy="653.95" r="7.8" fill="#FF0000"/>
<circle cx="1976.52" cy="592.8" r="7.8" fill="#FF0000"/>
<circle cx="2015.2" cy="525.61" r="7.8" fill="#FF0000"/>
<circle cx="2053.89" cy="494.22" r="7.8" fill="#FF0000"/>
<circle cx="2092.57" cy="487.25" r="7.8" fill="#FF0000"/>
<circle cx="2131.25" cy="486.55" r="7.8" fill="#FF0000"/>
<circle cx="1860.47" cy="678.13" r="7.9" fill="#D4D4D4" stroke="#606060" stroke-width="2.7"/>
<circle cx="1899.16" cy="669.99" r="7.9" fill="#D4D4D4" stroke="#606060" stroke-width="2.7"/>
<circle cx="1937.84" cy="658.6" r="7.9" fill="#D4D4D4" stroke="#606060" stroke-width="2.7"/>
<circle cx="1976.52" cy="616.75" r="7.9" fill="#D4D4D4" stroke="#606060" stroke-width="2.7"/>
<circle cx="2015.2" cy="534.91" r="7.9" fill="#D4D4D4" stroke="#606060" stroke-width="2.7"/>
<circle cx="2053.89" cy="508.4" r="7.9" fill="#D4D4D4" stroke="#606060" stroke-width="2.7"/>
<circle cx="2092.57" cy="500.73" r="7.9" fill="#D4D4D4" stroke="#606060" stroke-width="2.7"/>
<circle cx="2131.25" cy="499.8" r="7.9" fill="#D4D4D4" stroke="#606060" stroke-width="2.7"/>
<path d="M1860.47 664.85L1868.17 672.55L1860.47 680.25L1852.77 672.55Z" fill="#0000BE"/>
<path d="M1899.16 655.78L1906.86 663.48L1899.16 671.18L1891.46 663.48Z" fill="#0000BE"/>
<path d="M1937.84 642.3L1945.54 650L1937.84 657.7L1930.14 650Z" fill="#0000BE"/>
<path d="M1976.52 577.2L1984.22 584.9L1976.52 592.6L1968.82 584.9Z" fill="#0000BE"/>
<path d="M2015.2 501.4L2022.9 509.1L2015.2 516.8L2007.5 509.1Z" fill="#0000BE"/>
<path d="M2053.89 473.97L2061.59 481.67L2053.89 489.37L2046.19 481.67Z" fill="#0000BE"/>
<path d="M2092.57 473.97L2100.27 481.67L2092.57 489.37L2084.87 481.67Z" fill="#0000BE"/>
<path d="M2131.25 471.87L2138.95 479.57L2131.25 487.27L2123.55 479.57Z" fill="#0000BE"/>
<path d="M1860.47 685.9 L1862.75 685.32 L1865.02 684.71 L1867.3 684.08 L1869.58 683.41 L1871.85 682.72 L1874.13 681.99 L1876.4 681.23 L1878.68 680.44 L1880.95 679.61 L1883.23 678.75 L1885.5 677.85 L1887.78 676.91 L1890.05 675.93 L1892.33 674.9 L1894.61 673.84 L1896.88 672.73 L1899.16 671.58 L1901.43 670.38 L1903.71 669.14 L1905.98 667.85 L1908.26 666.5 L1910.53 665.11 L1912.81 663.66 L1915.08 662.16 L1917.36 660.61 L1919.63 659.01 L1921.91 657.34 L1924.19 655.63 L1926.46 653.85 L1928.74 652.02 L1931.01 650.14 L1933.29 648.19 L1935.56 646.19 L1937.84 644.13 L1940.11 642.02 L1942.39 639.85 L1944.66 637.62 L1946.94 635.34 L1949.22 633 L1951.49 630.61 L1953.77 628.17 L1956.04 625.68 L1958.32 623.15 L1960.59 620.56 L1962.87 617.93 L1965.14 615.26 L1967.42 612.55 L1969.69 609.81 L1971.97 607.03 L1974.25 604.22 L1976.52 601.38 L1978.8 598.52 L1981.07 595.64 L1983.35 592.74 L1985.62 589.83 L1987.9 586.9 L1990.17 583.98 L1992.45 581.04 L1994.72 578.11 L1997 575.19 L1999.27 572.27 L2001.55 569.37 L2003.83 566.48 L2006.1 563.61 L2008.38 560.77 L2010.65 557.95 L2012.93 555.16 L2015.2 552.4 L2017.48 549.68 L2019.75 547 L2022.03 544.35 L2024.3 541.76 L2026.58 539.2 L2028.86 536.7 L2031.13 534.24 L2033.41 531.83 L2035.68 529.48 L2037.96 527.18 L2040.23 524.94 L2042.51 522.75 L2044.78 520.61 L2047.06 518.54 L2049.33 516.52 L2051.61 514.55 L2053.89 512.65 L2056.16 510.8 L2058.44 509.01 L2060.71 507.27 L2062.99 505.59 L2065.26 503.97 L2067.54 502.4 L2069.81 500.88 L2072.09 499.42 L2074.36 498.01 L2076.64 496.65 L2078.92 495.34 L2081.19 494.08 L2083.47 492.87 L2085.74 491.7 L2088.02 490.58 L2090.29 489.5 L2092.57 488.47 L2094.84 487.47 L2097.12 486.52 L2099.39 485.61 L2101.67 484.73 L2103.94 483.89 L2106.22 483.09 L2108.5 482.32 L2110.77 481.58 L2113.05 480.88 L2115.32 480.2 L2117.6 479.56 L2119.87 478.94 L2122.15 478.35 L2124.42 477.78 L2126.7 477.25 L2128.97 476.73 L2131.25 476.24" fill="none" stroke="#606060" stroke-width="3.0" stroke-linejoin="round"/>
<path d="M1860.47 687.55 L1862.75 687.08 L1865.02 686.57 L1867.3 686.03 L1869.58 685.46 L1871.85 684.84 L1874.13 684.19 L1876.4 683.5 L1878.68 682.76 L1880.95 681.98 L1883.23 681.15 L1885.5 680.26 L1887.78 679.33 L1890.05 678.33 L1892.33 677.28 L1894.61 676.16 L1896.88 674.98 L1899.16 673.73 L1901.43 672.41 L1903.71 671.01 L1905.98 669.54 L1908.26 667.98 L1910.53 666.34 L1912.81 664.62 L1915.08 662.8 L1917.36 660.9 L1919.63 658.9 L1921.91 656.81 L1924.19 654.62 L1926.46 652.33 L1928.74 649.93 L1931.01 647.44 L1933.29 644.85 L1935.56 642.15 L1937.84 639.35 L1940.11 636.46 L1942.39 633.46 L1944.66 630.37 L1946.94 627.18 L1949.22 623.9 L1951.49 620.54 L1953.77 617.1 L1956.04 613.57 L1958.32 609.98 L1960.59 606.32 L1962.87 602.61 L1965.14 598.84 L1967.42 595.03 L1969.69 591.19 L1971.97 587.32 L1974.25 583.44 L1976.52 579.55 L1978.8 575.66 L1981.07 571.78 L1983.35 567.91 L1985.62 564.08 L1987.9 560.28 L1990.17 556.52 L1992.45 552.82 L1994.72 549.18 L1997 545.6 L1999.27 542.09 L2001.55 538.67 L2003.83 535.32 L2006.1 532.06 L2008.38 528.9 L2010.65 525.83 L2012.93 522.85 L2015.2 519.98 L2017.48 517.2 L2019.75 514.53 L2022.03 511.96 L2024.3 509.49 L2026.58 507.12 L2028.86 504.85 L2031.13 502.68 L2033.41 500.61 L2035.68 498.63 L2037.96 496.75 L2040.23 494.95 L2042.51 493.25 L2044.78 491.63 L2047.06 490.09 L2049.33 488.63 L2051.61 487.25 L2053.89 485.95 L2056.16 484.71 L2058.44 483.55 L2060.71 482.44 L2062.99 481.4 L2065.26 480.42 L2067.54 479.5 L2069.81 478.62 L2072.09 477.8 L2074.36 477.03 L2076.64 476.3 L2078.92 475.62 L2081.19 474.98 L2083.47 474.37 L2085.74 473.81 L2088.02 473.28 L2090.29 472.78 L2092.57 472.31 L2094.84 471.87 L2097.12 471.45 L2099.39 471.07 L2101.67 470.71 L2103.94 470.37 L2106.22 470.05 L2108.5 469.75 L2110.77 469.47 L2113.05 469.21 L2115.32 468.96 L2117.6 468.73 L2119.87 468.52 L2122.15 468.32 L2124.42 468.13 L2126.7 467.95 L2128.97 467.79 L2131.25 467.63" fill="none" stroke="#0000BE" stroke-width="3.0" stroke-linejoin="round"/>
<path d="M1860.47 687.86 L1862.75 687.37 L1865.02 686.85 L1867.3 686.3 L1869.58 685.71 L1871.85 685.09 L1874.13 684.43 L1876.4 683.73 L1878.68 682.99 L1880.95 682.21 L1883.23 681.39 L1885.5 680.51 L1887.78 679.59 L1890.05 678.62 L1892.33 677.59 L1894.61 676.5 L1896.88 675.35 L1899.16 674.15 L1901.43 672.88 L1903.71 671.54 L1905.98 670.13 L1908.26 668.65 L1910.53 667.1 L1912.81 665.48 L1915.08 663.77 L1917.36 661.98 L1919.63 660.12 L1921.91 658.17 L1924.19 656.13 L1926.46 654 L1928.74 651.79 L1931.01 649.49 L1933.29 647.1 L1935.56 644.63 L1937.84 642.06 L1940.11 639.4 L1942.39 636.66 L1944.66 633.83 L1946.94 630.92 L1949.22 627.93 L1951.49 624.85 L1953.77 621.7 L1956.04 618.48 L1958.32 615.2 L1960.59 611.85 L1962.87 608.44 L1965.14 604.98 L1967.42 601.47 L1969.69 597.93 L1971.97 594.35 L1974.25 590.74 L1976.52 587.12 L1978.8 583.48 L1981.07 579.84 L1983.35 576.21 L1985.62 572.58 L1987.9 568.97 L1990.17 565.39 L1992.45 561.83 L1994.72 558.32 L1997 554.85 L1999.27 551.43 L2001.55 548.06 L2003.83 544.76 L2006.1 541.53 L2008.38 538.36 L2010.65 535.27 L2012.93 532.26 L2015.2 529.33 L2017.48 526.48 L2019.75 523.72 L2022.03 521.04 L2024.3 518.46 L2026.58 515.96 L2028.86 513.55 L2031.13 511.23 L2033.41 509 L2035.68 506.85 L2037.96 504.8 L2040.23 502.83 L2042.51 500.94 L2044.78 499.14 L2047.06 497.41 L2049.33 495.77 L2051.61 494.2 L2053.89 492.71 L2056.16 491.29 L2058.44 489.93 L2060.71 488.65 L2062.99 487.43 L2065.26 486.27 L2067.54 485.17 L2069.81 484.13 L2072.09 483.14 L2074.36 482.2 L2076.64 481.32 L2078.92 480.48 L2081.19 479.69 L2083.47 478.94 L2085.74 478.24 L2088.02 477.57 L2090.29 476.94 L2092.57 476.35 L2094.84 475.79 L2097.12 475.26 L2099.39 474.76 L2101.67 474.29 L2103.94 473.85 L2106.22 473.43 L2108.5 473.04 L2110.77 472.67 L2113.05 472.32 L2115.32 472 L2117.6 471.69 L2119.87 471.4 L2122.15 471.13 L2124.42 470.87 L2126.7 470.63 L2128.97 470.4 L2131.25 470.19" fill="none" stroke="#FF0000" stroke-width="3.0" stroke-linejoin="round"/>
<path d="M129.8 889.5V1177.7H417.62" fill="none" stroke="#000" stroke-width="2.2" stroke-linejoin="miter"/>
<line x1="121" y1="1177.7" x2="129.8" y2="1177.7" stroke="#000" stroke-width="2.2" />
<text x="101.05" y="1187.51" >0</text>
<line x1="121" y1="1105.65" x2="129.8" y2="1105.65" stroke="#000" stroke-width="2.2" />
<text x="77.43" y="1115.46" >0.5</text>
<line x1="121" y1="1033.6" x2="129.8" y2="1033.6" stroke="#000" stroke-width="2.2" />
<text x="77.3" y="1043.41" >1.0</text>
<line x1="121" y1="961.55" x2="129.8" y2="961.55" stroke="#000" stroke-width="2.2" />
<text x="77.43" y="971.24" >1.5</text>
<line x1="121" y1="889.5" x2="129.8" y2="889.5" stroke="#000" stroke-width="2.2" />
<text x="77.3" y="899.31" >2.0</text>
<line x1="142" y1="1177.7" x2="142" y2="1186.9" stroke="#000" stroke-width="2.2" />
<text x="99.71" y="1216.2" >−1.50</text>
<line x1="233.88" y1="1177.7" x2="233.88" y2="1186.9" stroke="#000" stroke-width="2.2" />
<text x="193.15" y="1216.2" >−0.75</text>
<line x1="325.75" y1="1177.7" x2="325.75" y2="1186.9" stroke="#000" stroke-width="2.2" />
<text x="317.31" y="1216.2" >0</text>
<line x1="417.62" y1="1177.7" x2="417.62" y2="1186.9" stroke="#000" stroke-width="2.2" />
<text x="389.94" y="1216.2" >0.75</text>
<text transform="translate(33.7 1041.3) rotate(-90)" text-anchor="middle">Binding with mAb 3C1</text>
<text transform="translate(67.1 1042.8) rotate(-90)" text-anchor="middle">(OD<tspan dy="8.6" font-size="20">450 nm</tspan><tspan dy="-8.6">)</tspan></text>
<text x="273.2" y="1249.4" text-anchor="middle" >log<tspan dy="9.2" font-size="20.5">10</tspan><tspan dy="-9.2"> antigen</tspan></text>
<text x="273.2" y="1283" text-anchor="middle" >concentration (µg ml<tspan dy="-9.6" font-size="20">−1</tspan><tspan dy="9.6">)</tspan></text>
<line x1="362.63" y1="968.6" x2="362.63" y2="995.5" stroke="#606060" stroke-width="2.3" />
<line x1="354.83" y1="968.6" x2="370.43" y2="968.6" stroke="#606060" stroke-width="2.3" />
<line x1="354.83" y1="995.5" x2="370.43" y2="995.5" stroke="#606060" stroke-width="2.3" />
<line x1="215.12" y1="1135.2" x2="215.12" y2="1158.4" stroke="#0000BE" stroke-width="2.3" />
<line x1="207.32" y1="1135.2" x2="222.92" y2="1135.2" stroke="#0000BE" stroke-width="2.3" />
<line x1="207.32" y1="1158.4" x2="222.92" y2="1158.4" stroke="#0000BE" stroke-width="2.3" />
<circle cx="141.37" cy="1159.54" r="7.8" fill="#FF0000"/>
<circle cx="178.25" cy="1169.63" r="7.8" fill="#FF0000"/>
<circle cx="215.12" cy="1168.05" r="7.8" fill="#FF0000"/>
<circle cx="252" cy="1163.58" r="7.8" fill="#FF0000"/>
<circle cx="288.87" cy="1158.53" r="7.8" fill="#FF0000"/>
<circle cx="325.75" cy="1138.22" r="7.8" fill="#FF0000"/>
<circle cx="362.63" cy="1095.56" r="7.8" fill="#FF0000"/>
<circle cx="399.5" cy="1064.15" r="7.8" fill="#FF0000"/>
<circle cx="141.37" cy="1164.44" r="7.9" fill="#D4D4D4" stroke="#606060" stroke-width="2.7"/>
<circle cx="178.25" cy="1160.7" r="7.9" fill="#D4D4D4" stroke="#606060" stroke-width="2.7"/>
<circle cx="215.12" cy="1152.77" r="7.9" fill="#D4D4D4" stroke="#606060" stroke-width="2.7"/>
<circle cx="252" cy="1136.63" r="7.9" fill="#D4D4D4" stroke="#606060" stroke-width="2.7"/>
<circle cx="288.87" cy="1111.27" r="7.9" fill="#D4D4D4" stroke="#606060" stroke-width="2.7"/>
<circle cx="325.75" cy="1061.84" r="7.9" fill="#D4D4D4" stroke="#606060" stroke-width="2.7"/>
<circle cx="362.63" cy="982.16" r="7.9" fill="#D4D4D4" stroke="#606060" stroke-width="2.7"/>
<circle cx="399.5" cy="926.53" r="7.9" fill="#D4D4D4" stroke="#606060" stroke-width="2.7"/>
<path d="M141.37 1154.58L149.07 1162.28L141.37 1169.98L133.67 1162.28Z" fill="#0000BE"/>
<path d="M178.25 1154.58L185.95 1162.28L178.25 1169.98L170.55 1162.28Z" fill="#0000BE"/>
<path d="M215.12 1140.75L222.82 1148.45L215.12 1156.15L207.42 1148.45Z" fill="#0000BE"/>
<path d="M252 1129.36L259.7 1137.06L252 1144.76L244.3 1137.06Z" fill="#0000BE"/>
<path d="M288.87 1112.65L296.57 1120.35L288.87 1128.05L281.17 1120.35Z" fill="#0000BE"/>
<path d="M325.75 1083.4L333.45 1091.1L325.75 1098.8L318.05 1091.1Z" fill="#0000BE"/>
<path d="M362.63 1012.21L370.33 1019.91L362.63 1027.61L354.93 1019.91Z" fill="#0000BE"/>
<path d="M399.5 949.24L407.2 956.94L399.5 964.64L391.8 956.94Z" fill="#0000BE"/>
<path d="M141.37 1161.98 L143.54 1161.9 L145.71 1161.81 L147.88 1161.72 L150.05 1161.63 L152.22 1161.53 L154.38 1161.42 L156.55 1161.31 L158.72 1161.19 L160.89 1161.06 L163.06 1160.93 L165.23 1160.79 L167.4 1160.64 L169.57 1160.48 L171.74 1160.32 L173.91 1160.14 L176.08 1159.96 L178.25 1159.76 L180.41 1159.55 L182.58 1159.34 L184.75 1159.11 L186.92 1158.86 L189.09 1158.61 L191.26 1158.34 L193.43 1158.05 L195.6 1157.75 L197.77 1157.43 L199.94 1157.1 L202.11 1156.75 L204.28 1156.37 L206.44 1155.98 L208.61 1155.57 L210.78 1155.13 L212.95 1154.67 L215.12 1154.18 L217.29 1153.67 L219.46 1153.13 L221.63 1152.56 L223.8 1151.97 L225.97 1151.34 L228.14 1150.67 L230.31 1149.98 L232.47 1149.24 L234.64 1148.47 L236.81 1147.66 L238.98 1146.81 L241.15 1145.91 L243.32 1144.97 L245.49 1143.98 L247.66 1142.94 L249.83 1141.85 L252 1140.71 L254.17 1139.51 L256.34 1138.25 L258.51 1136.94 L260.67 1135.56 L262.84 1134.12 L265.01 1132.61 L267.18 1131.03 L269.35 1129.38 L271.52 1127.66 L273.69 1125.87 L275.86 1123.99 L278.03 1122.04 L280.2 1120.01 L282.37 1117.89 L284.54 1115.69 L286.7 1113.41 L288.87 1111.03 L291.04 1108.57 L293.21 1106.02 L295.38 1103.38 L297.55 1100.64 L299.72 1097.82 L301.89 1094.91 L304.06 1091.9 L306.23 1088.8 L308.4 1085.62 L310.57 1082.34 L312.73 1078.98 L314.9 1075.54 L317.07 1072.01 L319.24 1068.4 L321.41 1064.71 L323.58 1060.96 L325.75 1057.13 L327.92 1053.23 L330.09 1049.28 L332.26 1045.27 L334.43 1041.21 L336.6 1037.1 L338.77 1032.95 L340.93 1028.77 L343.1 1024.56 L345.27 1020.33 L347.44 1016.09 L349.61 1011.83 L351.78 1007.58 L353.95 1003.33 L356.12 999.09 L358.29 994.86 L360.46 990.67 L362.63 986.5 L364.8 982.37 L366.96 978.28 L369.13 974.24 L371.3 970.25 L373.47 966.32 L375.64 962.45 L377.81 958.65 L379.98 954.92 L382.15 951.27 L384.32 947.7 L386.49 944.2 L388.66 940.79 L390.83 937.47 L392.99 934.23 L395.16 931.08 L397.33 928.02 L399.5 925.05" fill="none" stroke="#606060" stroke-width="3.0" stroke-linejoin="round"/>
<path d="M141.37 1165.59 L143.54 1165.59 L145.71 1165.59 L147.88 1165.59 L150.05 1165.58 L152.22 1165.58 L154.38 1165.58 L156.55 1165.58 L158.72 1165.58 L160.89 1165.57 L163.06 1165.57 L165.23 1165.57 L167.4 1165.57 L169.57 1165.56 L171.74 1165.56 L173.91 1165.55 L176.08 1165.55 L178.25 1165.54 L180.41 1165.54 L182.58 1165.53 L184.75 1165.52 L186.92 1165.52 L189.09 1165.51 L191.26 1165.5 L193.43 1165.49 L195.6 1165.48 L197.77 1165.47 L199.94 1165.45 L202.11 1165.44 L204.28 1165.42 L206.44 1165.4 L208.61 1165.38 L210.78 1165.36 L212.95 1165.34 L215.12 1165.31 L217.29 1165.28 L219.46 1165.25 L221.63 1165.22 L223.8 1165.18 L225.97 1165.14 L228.14 1165.09 L230.31 1165.04 L232.47 1164.99 L234.64 1164.93 L236.81 1164.86 L238.98 1164.79 L241.15 1164.71 L243.32 1164.62 L245.49 1164.52 L247.66 1164.42 L249.83 1164.3 L252 1164.17 L254.17 1164.03 L256.34 1163.88 L258.51 1163.71 L260.67 1163.53 L262.84 1163.32 L265.01 1163.1 L267.18 1162.86 L269.35 1162.59 L271.52 1162.3 L273.69 1161.99 L275.86 1161.64 L278.03 1161.26 L280.2 1160.85 L282.37 1160.4 L284.54 1159.91 L286.7 1159.38 L288.87 1158.79 L291.04 1158.16 L293.21 1157.48 L295.38 1156.73 L297.55 1155.93 L299.72 1155.05 L301.89 1154.11 L304.06 1153.1 L306.23 1152 L308.4 1150.83 L310.57 1149.57 L312.73 1148.22 L314.9 1146.78 L317.07 1145.24 L319.24 1143.61 L321.41 1141.88 L323.58 1140.05 L325.75 1138.12 L327.92 1136.1 L330.09 1133.98 L332.26 1131.77 L334.43 1129.48 L336.6 1127.1 L338.77 1124.64 L340.93 1122.13 L343.1 1119.55 L345.27 1116.92 L347.44 1114.26 L349.61 1111.58 L351.78 1108.87 L353.95 1106.17 L356.12 1103.48 L358.29 1100.81 L360.46 1098.17 L362.63 1095.58 L364.8 1093.04 L366.96 1090.57 L369.13 1088.16 L371.3 1085.84 L373.47 1083.61 L375.64 1081.46 L377.81 1079.41 L379.98 1077.45 L382.15 1075.59 L384.32 1073.83 L386.49 1072.17 L388.66 1070.6 L390.83 1069.13 L392.99 1067.75 L395.16 1066.47 L397.33 1065.27 L399.5 1064.15" fill="none" stroke="#FF0000" stroke-width="3.0" stroke-linejoin="round"/>
<path d="M141.37 1160.55 L143.54 1160.45 L145.71 1160.34 L147.88 1160.23 L150.05 1160.11 L152.22 1159.99 L154.38 1159.86 L156.55 1159.73 L158.72 1159.59 L160.89 1159.45 L163.06 1159.29 L165.23 1159.14 L167.4 1158.97 L169.57 1158.8 L171.74 1158.62 L173.91 1158.43 L176.08 1158.23 L178.25 1158.02 L180.41 1157.81 L182.58 1157.58 L184.75 1157.35 L186.92 1157.1 L189.09 1156.85 L191.26 1156.58 L193.43 1156.3 L195.6 1156.01 L197.77 1155.7 L199.94 1155.39 L202.11 1155.05 L204.28 1154.71 L206.44 1154.35 L208.61 1153.97 L210.78 1153.58 L212.95 1153.17 L215.12 1152.74 L217.29 1152.29 L219.46 1151.82 L221.63 1151.34 L223.8 1150.83 L225.97 1150.3 L228.14 1149.75 L230.31 1149.17 L232.47 1148.58 L234.64 1147.95 L236.81 1147.3 L238.98 1146.62 L241.15 1145.92 L243.32 1145.18 L245.49 1144.41 L247.66 1143.62 L249.83 1142.79 L252 1141.92 L254.17 1141.02 L256.34 1140.09 L258.51 1139.12 L260.67 1138.1 L262.84 1137.05 L265.01 1135.96 L267.18 1134.82 L269.35 1133.65 L271.52 1132.42 L273.69 1131.15 L275.86 1129.83 L278.03 1128.46 L280.2 1127.04 L282.37 1125.57 L284.54 1124.04 L286.7 1122.46 L288.87 1120.82 L291.04 1119.12 L293.21 1117.37 L295.38 1115.55 L297.55 1113.68 L299.72 1111.74 L301.89 1109.73 L304.06 1107.66 L306.23 1105.52 L308.4 1103.32 L310.57 1101.05 L312.73 1098.71 L314.9 1096.3 L317.07 1093.81 L319.24 1091.26 L321.41 1088.63 L323.58 1085.94 L325.75 1083.17 L327.92 1080.33 L330.09 1077.41 L332.26 1074.43 L334.43 1071.37 L336.6 1068.24 L338.77 1065.04 L340.93 1061.77 L343.1 1058.44 L345.27 1055.03 L347.44 1051.57 L349.61 1048.03 L351.78 1044.44 L353.95 1040.78 L356.12 1037.07 L358.29 1033.3 L360.46 1029.48 L362.63 1025.61 L364.8 1021.69 L366.96 1017.73 L369.13 1013.73 L371.3 1009.69 L373.47 1005.61 L375.64 1001.51 L377.81 997.38 L379.98 993.23 L382.15 989.06 L384.32 984.87 L386.49 980.68 L388.66 976.48 L390.83 972.28 L392.99 968.08 L395.16 963.88 L397.33 959.7 L399.5 955.54" fill="none" stroke="#0000BE" stroke-width="3.0" stroke-linejoin="round"/>
<line x1="140.2" y1="909.8" x2="171.7" y2="909.8" stroke="#606060" stroke-width="2.6" />
<circle cx="155.8" cy="910" r="7.9" fill="#D4D4D4" stroke="#606060" stroke-width="2.7"/>
<text x="186.07" y="919.3" >WT S</text>
<line x1="138.9" y1="948.3" x2="170.1" y2="948.3" stroke="#0000BE" stroke-width="2.6" />
<path d="M154.5 940.7L162.2 948.4L154.5 956.1L146.8 948.4Z" fill="#0000BE"/>
<text x="184.93" y="957.9" >Delta S</text>
<line x1="140.2" y1="985.1" x2="171.7" y2="985.1" stroke="#FF0000" stroke-width="2.6" />
<circle cx="155.8" cy="985.1" r="7.8" fill="#FF0000"/>
<text x="185.32" y="994.6" >Omicron S</text>
<path d="M552 889.5V1177.7H839.83" fill="none" stroke="#000" stroke-width="2.2" stroke-linejoin="miter"/>
<line x1="543.2" y1="1177.7" x2="552" y2="1177.7" stroke="#000" stroke-width="2.2" />
<text x="523.25" y="1187.51" >0</text>
<line x1="543.2" y1="1105.65" x2="552" y2="1105.65" stroke="#000" stroke-width="2.2" />
<text x="499.62" y="1115.46" >0.5</text>
<line x1="543.2" y1="1033.6" x2="552" y2="1033.6" stroke="#000" stroke-width="2.2" />
<text x="499.5" y="1043.41" >1.0</text>
<line x1="543.2" y1="961.55" x2="552" y2="961.55" stroke="#000" stroke-width="2.2" />
<text x="499.62" y="971.24" >1.5</text>
<line x1="543.2" y1="889.5" x2="552" y2="889.5" stroke="#000" stroke-width="2.2" />
<text x="499.5" y="899.31" >2.0</text>
<line x1="564.2" y1="1177.7" x2="564.2" y2="1186.9" stroke="#000" stroke-width="2.2" />
<text x="521.91" y="1216.2" >−1.50</text>
<line x1="656.08" y1="1177.7" x2="656.08" y2="1186.9" stroke="#000" stroke-width="2.2" />
<text x="615.35" y="1216.2" >−0.75</text>
<line x1="747.95" y1="1177.7" x2="747.95" y2="1186.9" stroke="#000" stroke-width="2.2" />
<text x="739.51" y="1216.2" >0</text>
<line x1="839.83" y1="1177.7" x2="839.83" y2="1186.9" stroke="#000" stroke-width="2.2" />
<text x="812.14" y="1216.2" >0.75</text>
<text transform="translate(455.9 1041.9) rotate(-90)" text-anchor="middle">Binding with mAb 2H2</text>
<text transform="translate(489.3 1040.9) rotate(-90)" text-anchor="middle">(OD<tspan dy="8.6" font-size="20">450 nm</tspan><tspan dy="-8.6">)</tspan></text>
<text x="691.8" y="1249.4" text-anchor="middle" >log<tspan dy="9.2" font-size="20.5">10</tspan><tspan dy="-9.2"> antigen</tspan></text>
<text x="691.8" y="1283" text-anchor="middle" >concentration (µg ml<tspan dy="-9.6" font-size="20">−1</tspan><tspan dy="9.6">)</tspan></text>
<circle cx="563.57" cy="1165.16" r="7.8" fill="#FF0000"/>
<circle cx="600.45" cy="1167.61" r="7.8" fill="#FF0000"/>
<circle cx="637.32" cy="1165.88" r="7.8" fill="#FF0000"/>
<circle cx="674.2" cy="1163.58" r="7.8" fill="#FF0000"/>
<circle cx="711.07" cy="1156.37" r="7.8" fill="#FF0000"/>
<circle cx="747.95" cy="1130" r="7.8" fill="#FF0000"/>
<circle cx="784.83" cy="1075.39" r="7.8" fill="#FF0000"/>
<circle cx="821.7" cy="1015.88" r="7.8" fill="#FF0000"/>
<circle cx="563.57" cy="1163.58" r="7.9" fill="#D4D4D4" stroke="#606060" stroke-width="2.7"/>
<circle cx="600.45" cy="1159.26" r="7.9" fill="#D4D4D4" stroke="#606060" stroke-width="2.7"/>
<circle cx="637.32" cy="1155.22" r="7.9" fill="#D4D4D4" stroke="#606060" stroke-width="2.7"/>
<circle cx="674.2" cy="1146.29" r="7.9" fill="#D4D4D4" stroke="#606060" stroke-width="2.7"/>
<circle cx="711.07" cy="1121.07" r="7.9" fill="#D4D4D4" stroke="#606060" stroke-width="2.7"/>
<circle cx="747.95" cy="1078.27" r="7.9" fill="#D4D4D4" stroke="#606060" stroke-width="2.7"/>
<circle cx="784.83" cy="1004.2" r="7.9" fill="#D4D4D4" stroke="#606060" stroke-width="2.7"/>
<circle cx="821.7" cy="948.87" r="7.9" fill="#D4D4D4" stroke="#606060" stroke-width="2.7"/>
<path d="M563.57 1155.16L571.27 1162.86L563.57 1170.56L555.87 1162.86Z" fill="#0000BE"/>
<path d="M600.45 1153.14L608.15 1160.84L600.45 1168.54L592.75 1160.84Z" fill="#0000BE"/>
<path d="M637.32 1149.25L645.02 1156.95L637.32 1164.65L629.62 1156.95Z" fill="#0000BE"/>
<path d="M674.2 1137.43L681.9 1145.13L674.2 1152.83L666.5 1145.13Z" fill="#0000BE"/>
<path d="M711.07 1120.57L718.77 1128.27L711.07 1135.97L703.37 1128.27Z" fill="#0000BE"/>
<path d="M747.95 1085.56L755.65 1093.26L747.95 1100.96L740.25 1093.26Z" fill="#0000BE"/>
<path d="M784.83 1025.18L792.53 1032.88L784.83 1040.58L777.13 1032.88Z" fill="#0000BE"/>
<path d="M821.7 962.06L829.4 969.76L821.7 977.46L814 969.76Z" fill="#0000BE"/>
<path d="M563.57 1161.16 L565.74 1161.11 L567.91 1161.07 L570.08 1161.02 L572.25 1160.96 L574.42 1160.91 L576.58 1160.85 L578.75 1160.78 L580.92 1160.72 L583.09 1160.65 L585.26 1160.57 L587.43 1160.49 L589.6 1160.4 L591.77 1160.31 L593.94 1160.22 L596.11 1160.11 L598.28 1160.01 L600.45 1159.89 L602.61 1159.77 L604.78 1159.63 L606.95 1159.5 L609.12 1159.35 L611.29 1159.19 L613.46 1159.02 L615.63 1158.85 L617.8 1158.66 L619.97 1158.46 L622.14 1158.25 L624.31 1158.02 L626.48 1157.78 L628.64 1157.53 L630.81 1157.26 L632.98 1156.98 L635.15 1156.67 L637.32 1156.35 L639.49 1156.01 L641.66 1155.65 L643.83 1155.27 L646 1154.86 L648.17 1154.43 L650.34 1153.97 L652.51 1153.49 L654.67 1152.98 L656.84 1152.44 L659.01 1151.86 L661.18 1151.25 L663.35 1150.61 L665.52 1149.93 L667.69 1149.21 L669.86 1148.45 L672.03 1147.64 L674.2 1146.79 L676.37 1145.9 L678.54 1144.95 L680.71 1143.95 L682.87 1142.89 L685.04 1141.78 L687.21 1140.61 L689.38 1139.38 L691.55 1138.08 L693.72 1136.71 L695.89 1135.28 L698.06 1133.77 L700.23 1132.18 L702.4 1130.52 L704.57 1128.78 L706.74 1126.96 L708.9 1125.05 L711.07 1123.05 L713.24 1120.97 L715.41 1118.79 L717.58 1116.52 L719.75 1114.16 L721.92 1111.7 L724.09 1109.14 L726.26 1106.49 L728.43 1103.74 L730.6 1100.89 L732.77 1097.94 L734.93 1094.9 L737.1 1091.76 L739.27 1088.53 L741.44 1085.21 L743.61 1081.8 L745.78 1078.3 L747.95 1074.72 L750.12 1071.06 L752.29 1067.33 L754.46 1063.52 L756.63 1059.66 L758.8 1055.74 L760.97 1051.76 L763.13 1047.75 L765.3 1043.69 L767.47 1039.6 L769.64 1035.49 L771.81 1031.37 L773.98 1027.24 L776.15 1023.11 L778.32 1018.98 L780.49 1014.87 L782.66 1010.79 L784.83 1006.74 L787 1002.72 L789.16 998.75 L791.33 994.83 L793.5 990.97 L795.67 987.17 L797.84 983.44 L800.01 979.78 L802.18 976.21 L804.35 972.71 L806.52 969.31 L808.69 965.99 L810.86 962.76 L813.03 959.63 L815.19 956.59 L817.36 953.65 L819.53 950.8 L821.7 948.06" fill="none" stroke="#606060" stroke-width="3.0" stroke-linejoin="round"/>
<path d="M563.57 1166.55 L565.74 1166.55 L567.91 1166.54 L570.08 1166.54 L572.25 1166.53 L574.42 1166.53 L576.58 1166.52 L578.75 1166.51 L580.92 1166.51 L583.09 1166.5 L585.26 1166.49 L587.43 1166.48 L589.6 1166.47 L591.77 1166.46 L593.94 1166.45 L596.11 1166.44 L598.28 1166.42 L600.45 1166.41 L602.61 1166.39 L604.78 1166.37 L606.95 1166.35 L609.12 1166.33 L611.29 1166.31 L613.46 1166.29 L615.63 1166.26 L617.8 1166.23 L619.97 1166.2 L622.14 1166.17 L624.31 1166.13 L626.48 1166.09 L628.64 1166.05 L630.81 1166.01 L632.98 1165.96 L635.15 1165.9 L637.32 1165.85 L639.49 1165.78 L641.66 1165.72 L643.83 1165.64 L646 1165.56 L648.17 1165.48 L650.34 1165.39 L652.51 1165.29 L654.67 1165.18 L656.84 1165.06 L659.01 1164.93 L661.18 1164.79 L663.35 1164.65 L665.52 1164.49 L667.69 1164.31 L669.86 1164.12 L672.03 1163.92 L674.2 1163.7 L676.37 1163.46 L678.54 1163.21 L680.71 1162.93 L682.87 1162.63 L685.04 1162.31 L687.21 1161.96 L689.38 1161.59 L691.55 1161.18 L693.72 1160.74 L695.89 1160.27 L698.06 1159.77 L700.23 1159.22 L702.4 1158.63 L704.57 1158 L706.74 1157.32 L708.9 1156.59 L711.07 1155.8 L713.24 1154.96 L715.41 1154.05 L717.58 1153.08 L719.75 1152.04 L721.92 1150.93 L724.09 1149.74 L726.26 1148.47 L728.43 1147.11 L730.6 1145.67 L732.77 1144.13 L734.93 1142.5 L737.1 1140.76 L739.27 1138.92 L741.44 1136.97 L743.61 1134.91 L745.78 1132.74 L747.95 1130.45 L750.12 1128.04 L752.29 1125.51 L754.46 1122.87 L756.63 1120.1 L758.8 1117.22 L760.97 1114.22 L763.13 1111.11 L765.3 1107.9 L767.47 1104.57 L769.64 1101.16 L771.81 1097.65 L773.98 1094.06 L776.15 1090.39 L778.32 1086.66 L780.49 1082.88 L782.66 1079.06 L784.83 1075.21 L787 1071.33 L789.16 1067.46 L791.33 1063.58 L793.5 1059.73 L795.67 1055.91 L797.84 1052.12 L800.01 1048.4 L802.18 1044.73 L804.35 1041.14 L806.52 1037.63 L808.69 1034.21 L810.86 1030.89 L813.03 1027.67 L815.19 1024.56 L817.36 1021.57 L819.53 1018.69 L821.7 1015.92" fill="none" stroke="#FF0000" stroke-width="3.0" stroke-linejoin="round"/>
<path d="M563.57 1162.23 L565.74 1162.17 L567.91 1162.1 L570.08 1162.02 L572.25 1161.95 L574.42 1161.87 L576.58 1161.78 L578.75 1161.69 L580.92 1161.6 L583.09 1161.5 L585.26 1161.4 L587.43 1161.29 L589.6 1161.18 L591.77 1161.06 L593.94 1160.93 L596.11 1160.8 L598.28 1160.66 L600.45 1160.51 L602.61 1160.36 L604.78 1160.2 L606.95 1160.03 L609.12 1159.85 L611.29 1159.66 L613.46 1159.47 L615.63 1159.26 L617.8 1159.04 L619.97 1158.81 L622.14 1158.58 L624.31 1158.32 L626.48 1158.06 L628.64 1157.78 L630.81 1157.49 L632.98 1157.18 L635.15 1156.86 L637.32 1156.53 L639.49 1156.17 L641.66 1155.8 L643.83 1155.41 L646 1155 L648.17 1154.58 L650.34 1154.13 L652.51 1153.66 L654.67 1153.16 L656.84 1152.64 L659.01 1152.1 L661.18 1151.53 L663.35 1150.93 L665.52 1150.31 L667.69 1149.66 L669.86 1148.97 L672.03 1148.25 L674.2 1147.5 L676.37 1146.72 L678.54 1145.9 L680.71 1145.04 L682.87 1144.14 L685.04 1143.2 L687.21 1142.22 L689.38 1141.19 L691.55 1140.12 L693.72 1139.01 L695.89 1137.84 L698.06 1136.63 L700.23 1135.36 L702.4 1134.04 L704.57 1132.66 L706.74 1131.23 L708.9 1129.74 L711.07 1128.18 L713.24 1126.57 L715.41 1124.89 L717.58 1123.15 L719.75 1121.34 L721.92 1119.47 L724.09 1117.53 L726.26 1115.51 L728.43 1113.43 L730.6 1111.27 L732.77 1109.04 L734.93 1106.73 L737.1 1104.35 L739.27 1101.9 L741.44 1099.37 L743.61 1096.76 L745.78 1094.08 L747.95 1091.32 L750.12 1088.49 L752.29 1085.58 L754.46 1082.6 L756.63 1079.55 L758.8 1076.42 L760.97 1073.23 L763.13 1069.97 L765.3 1066.65 L767.47 1063.26 L769.64 1059.81 L771.81 1056.31 L773.98 1052.75 L776.15 1049.14 L778.32 1045.49 L780.49 1041.79 L782.66 1038.05 L784.83 1034.28 L787 1030.47 L789.16 1026.64 L791.33 1022.79 L793.5 1018.93 L795.67 1015.05 L797.84 1011.16 L800.01 1007.28 L802.18 1003.4 L804.35 999.52 L806.52 995.66 L808.69 991.82 L810.86 988 L813.03 984.21 L815.19 980.45 L817.36 976.72 L819.53 973.04 L821.7 969.4" fill="none" stroke="#0000BE" stroke-width="3.0" stroke-linejoin="round"/>
<path d="M975.2 889.5V1177.7H1263.03" fill="none" stroke="#000" stroke-width="2.2" stroke-linejoin="miter"/>
<line x1="966.4" y1="1177.7" x2="975.2" y2="1177.7" stroke="#000" stroke-width="2.2" />
<text x="946.45" y="1187.51" >0</text>
<line x1="966.4" y1="1105.65" x2="975.2" y2="1105.65" stroke="#000" stroke-width="2.2" />
<text x="922.83" y="1115.46" >0.5</text>
<line x1="966.4" y1="1033.6" x2="975.2" y2="1033.6" stroke="#000" stroke-width="2.2" />
<text x="922.7" y="1043.41" >1.0</text>
<line x1="966.4" y1="961.55" x2="975.2" y2="961.55" stroke="#000" stroke-width="2.2" />
<text x="922.83" y="971.24" >1.5</text>
<line x1="966.4" y1="889.5" x2="975.2" y2="889.5" stroke="#000" stroke-width="2.2" />
<text x="922.7" y="899.31" >2.0</text>
<line x1="987.4" y1="1177.7" x2="987.4" y2="1186.9" stroke="#000" stroke-width="2.2" />
<text x="945.11" y="1216.2" >−1.50</text>
<line x1="1079.28" y1="1177.7" x2="1079.28" y2="1186.9" stroke="#000" stroke-width="2.2" />
<text x="1038.55" y="1216.2" >−0.75</text>
<line x1="1171.15" y1="1177.7" x2="1171.15" y2="1186.9" stroke="#000" stroke-width="2.2" />
<text x="1162.71" y="1216.2" >0</text>
<line x1="1263.03" y1="1177.7" x2="1263.03" y2="1186.9" stroke="#000" stroke-width="2.2" />
<text x="1235.34" y="1216.2" >0.75</text>
<text transform="translate(877.8 1033.3) rotate(-90)" text-anchor="middle">Binding with mAb 8D3</text>
<text transform="translate(911.2 1032.7) rotate(-90)" text-anchor="middle">(OD<tspan dy="8.6" font-size="20">450 nm</tspan><tspan dy="-8.6">)</tspan></text>
<text x="1127.3" y="1249.4" text-anchor="middle" >log<tspan dy="9.2" font-size="20.5">10</tspan><tspan dy="-9.2"> antigen</tspan></text>
<text x="1127.3" y="1283" text-anchor="middle" >concentration (µg ml<tspan dy="-9.6" font-size="20">−1</tspan><tspan dy="9.6">)</tspan></text>
<circle cx="986.77" cy="1171.65" r="7.8" fill="#FF0000"/>
<circle cx="1023.65" cy="1171.07" r="7.8" fill="#FF0000"/>
<circle cx="1060.52" cy="1170.64" r="7.8" fill="#FF0000"/>
<circle cx="1097.4" cy="1167.9" r="7.8" fill="#FF0000"/>
<circle cx="1134.27" cy="1163.29" r="7.8" fill="#FF0000"/>
<circle cx="1171.15" cy="1145.42" r="7.8" fill="#FF0000"/>
<circle cx="1208.03" cy="1102.62" r="7.8" fill="#FF0000"/>
<circle cx="1244.9" cy="1063.28" r="7.8" fill="#FF0000"/>
<circle cx="986.77" cy="1163.43" r="7.9" fill="#D4D4D4" stroke="#606060" stroke-width="2.7"/>
<circle cx="1023.65" cy="1161.42" r="7.9" fill="#D4D4D4" stroke="#606060" stroke-width="2.7"/>
<circle cx="1060.52" cy="1154.64" r="7.9" fill="#D4D4D4" stroke="#606060" stroke-width="2.7"/>
<circle cx="1097.4" cy="1140.52" r="7.9" fill="#D4D4D4" stroke="#606060" stroke-width="2.7"/>
<circle cx="1134.27" cy="1114.01" r="7.9" fill="#D4D4D4" stroke="#606060" stroke-width="2.7"/>
<circle cx="1171.15" cy="1063.86" r="7.9" fill="#D4D4D4" stroke="#606060" stroke-width="2.7"/>
<circle cx="1208.03" cy="976.82" r="7.9" fill="#D4D4D4" stroke="#606060" stroke-width="2.7"/>
<circle cx="1244.9" cy="925.52" r="7.9" fill="#D4D4D4" stroke="#606060" stroke-width="2.7"/>
<path d="M986.77 1161.07L994.47 1168.77L986.77 1176.47L979.07 1168.77Z" fill="#0000BE"/>
<path d="M1023.65 1160.63L1031.35 1168.33L1023.65 1176.03L1015.95 1168.33Z" fill="#0000BE"/>
<path d="M1060.52 1158.9L1068.22 1166.6L1060.52 1174.3L1052.82 1166.6Z" fill="#0000BE"/>
<path d="M1097.4 1151.27L1105.1 1158.97L1097.4 1166.67L1089.7 1158.97Z" fill="#0000BE"/>
<path d="M1134.27 1138.87L1141.97 1146.57L1134.27 1154.27L1126.57 1146.57Z" fill="#0000BE"/>
<path d="M1171.15 1110.92L1178.85 1118.62L1171.15 1126.32L1163.45 1118.62Z" fill="#0000BE"/>
<path d="M1208.03 1038.87L1215.73 1046.57L1208.03 1054.27L1200.33 1046.57Z" fill="#0000BE"/>
<path d="M1244.9 948.95L1252.6 956.65L1244.9 964.35L1237.2 956.65Z" fill="#0000BE"/>
<path d="M986.77 1161.09 L988.94 1161.05 L991.11 1161 L993.28 1160.94 L995.45 1160.89 L997.62 1160.83 L999.78 1160.77 L1001.95 1160.7 L1004.12 1160.63 L1006.29 1160.55 L1008.46 1160.47 L1010.63 1160.38 L1012.8 1160.29 L1014.97 1160.19 L1017.14 1160.09 L1019.31 1159.98 L1021.48 1159.86 L1023.65 1159.73 L1025.81 1159.59 L1027.98 1159.45 L1030.15 1159.3 L1032.32 1159.13 L1034.49 1158.96 L1036.66 1158.77 L1038.83 1158.58 L1041 1158.37 L1043.17 1158.14 L1045.34 1157.9 L1047.51 1157.65 L1049.68 1157.38 L1051.84 1157.09 L1054.01 1156.79 L1056.18 1156.46 L1058.35 1156.11 L1060.52 1155.75 L1062.69 1155.35 L1064.86 1154.94 L1067.03 1154.49 L1069.2 1154.02 L1071.37 1153.52 L1073.54 1152.99 L1075.71 1152.43 L1077.87 1151.83 L1080.04 1151.19 L1082.21 1150.51 L1084.38 1149.8 L1086.55 1149.04 L1088.72 1148.23 L1090.89 1147.38 L1093.06 1146.47 L1095.23 1145.51 L1097.4 1144.5 L1099.57 1143.42 L1101.74 1142.29 L1103.91 1141.09 L1106.07 1139.82 L1108.24 1138.48 L1110.41 1137.07 L1112.58 1135.58 L1114.75 1134.01 L1116.92 1132.35 L1119.09 1130.61 L1121.26 1128.78 L1123.43 1126.86 L1125.6 1124.84 L1127.77 1122.72 L1129.94 1120.5 L1132.1 1118.18 L1134.27 1115.76 L1136.44 1113.22 L1138.61 1110.57 L1140.78 1107.82 L1142.95 1104.95 L1145.12 1101.97 L1147.29 1098.87 L1149.46 1095.67 L1151.63 1092.35 L1153.8 1088.92 L1155.97 1085.38 L1158.13 1081.73 L1160.3 1077.98 L1162.47 1074.13 L1164.64 1070.18 L1166.81 1066.14 L1168.98 1062.02 L1171.15 1057.81 L1173.32 1053.53 L1175.49 1049.19 L1177.66 1044.78 L1179.83 1040.33 L1182 1035.83 L1184.17 1031.3 L1186.33 1026.75 L1188.5 1022.18 L1190.67 1017.61 L1192.84 1013.04 L1195.01 1008.48 L1197.18 1003.95 L1199.35 999.44 L1201.52 994.98 L1203.69 990.57 L1205.86 986.21 L1208.03 981.92 L1210.2 977.71 L1212.36 973.57 L1214.53 969.51 L1216.7 965.55 L1218.87 961.68 L1221.04 957.91 L1223.21 954.25 L1225.38 950.69 L1227.55 947.24 L1229.72 943.9 L1231.89 940.68 L1234.06 937.56 L1236.23 934.56 L1238.39 931.67 L1240.56 928.9 L1242.73 926.24 L1244.9 923.68" fill="none" stroke="#606060" stroke-width="3.0" stroke-linejoin="round"/>
<path d="M986.77 1170.84 L988.94 1170.84 L991.11 1170.84 L993.28 1170.83 L995.45 1170.83 L997.62 1170.83 L999.78 1170.83 L1001.95 1170.82 L1004.12 1170.82 L1006.29 1170.82 L1008.46 1170.81 L1010.63 1170.81 L1012.8 1170.8 L1014.97 1170.8 L1017.14 1170.79 L1019.31 1170.78 L1021.48 1170.78 L1023.65 1170.77 L1025.81 1170.76 L1027.98 1170.75 L1030.15 1170.74 L1032.32 1170.73 L1034.49 1170.72 L1036.66 1170.71 L1038.83 1170.69 L1041 1170.68 L1043.17 1170.66 L1045.34 1170.64 L1047.51 1170.62 L1049.68 1170.6 L1051.84 1170.58 L1054.01 1170.55 L1056.18 1170.53 L1058.35 1170.5 L1060.52 1170.46 L1062.69 1170.43 L1064.86 1170.39 L1067.03 1170.35 L1069.2 1170.3 L1071.37 1170.25 L1073.54 1170.2 L1075.71 1170.14 L1077.87 1170.07 L1080.04 1170 L1082.21 1169.92 L1084.38 1169.84 L1086.55 1169.75 L1088.72 1169.65 L1090.89 1169.54 L1093.06 1169.42 L1095.23 1169.29 L1097.4 1169.15 L1099.57 1169 L1101.74 1168.84 L1103.91 1168.66 L1106.07 1168.46 L1108.24 1168.25 L1110.41 1168.02 L1112.58 1167.77 L1114.75 1167.5 L1116.92 1167.2 L1119.09 1166.88 L1121.26 1166.53 L1123.43 1166.16 L1125.6 1165.75 L1127.77 1165.31 L1129.94 1164.83 L1132.1 1164.31 L1134.27 1163.76 L1136.44 1163.15 L1138.61 1162.5 L1140.78 1161.8 L1142.95 1161.04 L1145.12 1160.23 L1147.29 1159.36 L1149.46 1158.42 L1151.63 1157.41 L1153.8 1156.33 L1155.97 1155.18 L1158.13 1153.95 L1160.3 1152.64 L1162.47 1151.24 L1164.64 1149.76 L1166.81 1148.18 L1168.98 1146.52 L1171.15 1144.76 L1173.32 1142.91 L1175.49 1140.97 L1177.66 1138.93 L1179.83 1136.8 L1182 1134.59 L1184.17 1132.28 L1186.33 1129.89 L1188.5 1127.43 L1190.67 1124.89 L1192.84 1122.29 L1195.01 1119.63 L1197.18 1116.91 L1199.35 1114.16 L1201.52 1111.38 L1203.69 1108.57 L1205.86 1105.76 L1208.03 1102.94 L1210.2 1100.13 L1212.36 1097.35 L1214.53 1094.59 L1216.7 1091.88 L1218.87 1089.21 L1221.04 1086.6 L1223.21 1084.05 L1225.38 1081.58 L1227.55 1079.18 L1229.72 1076.87 L1231.89 1074.64 L1234.06 1072.5 L1236.23 1070.45 L1238.39 1068.5 L1240.56 1066.64 L1242.73 1064.87 L1244.9 1063.19" fill="none" stroke="#FF0000" stroke-width="3.0" stroke-linejoin="round"/>
<path d="M986.77 1167.92 L988.94 1167.91 L991.11 1167.89 L993.28 1167.87 L995.45 1167.85 L997.62 1167.83 L999.78 1167.8 L1001.95 1167.78 L1004.12 1167.75 L1006.29 1167.72 L1008.46 1167.69 L1010.63 1167.66 L1012.8 1167.62 L1014.97 1167.58 L1017.14 1167.54 L1019.31 1167.5 L1021.48 1167.46 L1023.65 1167.41 L1025.81 1167.36 L1027.98 1167.3 L1030.15 1167.24 L1032.32 1167.18 L1034.49 1167.11 L1036.66 1167.04 L1038.83 1166.97 L1041 1166.88 L1043.17 1166.8 L1045.34 1166.71 L1047.51 1166.61 L1049.68 1166.5 L1051.84 1166.39 L1054.01 1166.28 L1056.18 1166.15 L1058.35 1166.01 L1060.52 1165.87 L1062.69 1165.72 L1064.86 1165.56 L1067.03 1165.38 L1069.2 1165.2 L1071.37 1165 L1073.54 1164.79 L1075.71 1164.57 L1077.87 1164.33 L1080.04 1164.08 L1082.21 1163.81 L1084.38 1163.52 L1086.55 1163.21 L1088.72 1162.89 L1090.89 1162.54 L1093.06 1162.17 L1095.23 1161.78 L1097.4 1161.37 L1099.57 1160.92 L1101.74 1160.45 L1103.91 1159.95 L1106.07 1159.41 L1108.24 1158.85 L1110.41 1158.25 L1112.58 1157.6 L1114.75 1156.92 L1116.92 1156.2 L1119.09 1155.44 L1121.26 1154.62 L1123.43 1153.76 L1125.6 1152.84 L1127.77 1151.87 L1129.94 1150.84 L1132.1 1149.75 L1134.27 1148.6 L1136.44 1147.37 L1138.61 1146.08 L1140.78 1144.71 L1142.95 1143.26 L1145.12 1141.73 L1147.29 1140.12 L1149.46 1138.42 L1151.63 1136.62 L1153.8 1134.73 L1155.97 1132.73 L1158.13 1130.63 L1160.3 1128.43 L1162.47 1126.11 L1164.64 1123.67 L1166.81 1121.12 L1168.98 1118.45 L1171.15 1115.65 L1173.32 1112.72 L1175.49 1109.66 L1177.66 1106.47 L1179.83 1103.15 L1182 1099.69 L1184.17 1096.09 L1186.33 1092.36 L1188.5 1088.49 L1190.67 1084.48 L1192.84 1080.34 L1195.01 1076.07 L1197.18 1071.67 L1199.35 1067.15 L1201.52 1062.5 L1203.69 1057.74 L1205.86 1052.86 L1208.03 1047.88 L1210.2 1042.81 L1212.36 1037.64 L1214.53 1032.4 L1216.7 1027.09 L1218.87 1021.71 L1221.04 1016.28 L1223.21 1010.82 L1225.38 1005.32 L1227.55 999.8 L1229.72 994.28 L1231.89 988.77 L1234.06 983.27 L1236.23 977.79 L1238.39 972.36 L1240.56 966.97 L1242.73 961.65 L1244.9 956.39" fill="none" stroke="#0000BE" stroke-width="3.0" stroke-linejoin="round"/>
<path d="M1405.2 889.5V1177.7H1693.03" fill="none" stroke="#000" stroke-width="2.2" stroke-linejoin="miter"/>
<line x1="1396.4" y1="1177.7" x2="1405.2" y2="1177.7" stroke="#000" stroke-width="2.2" />
<text x="1376.45" y="1187.51" >0</text>
<line x1="1396.4" y1="1120.06" x2="1405.2" y2="1120.06" stroke="#000" stroke-width="2.2" />
<text x="1352.83" y="1129.87" >0.5</text>
<line x1="1396.4" y1="1062.42" x2="1405.2" y2="1062.42" stroke="#000" stroke-width="2.2" />
<text x="1352.7" y="1072.23" >1.0</text>
<line x1="1396.4" y1="1004.78" x2="1405.2" y2="1004.78" stroke="#000" stroke-width="2.2" />
<text x="1352.83" y="1014.47" >1.5</text>
<line x1="1396.4" y1="947.14" x2="1405.2" y2="947.14" stroke="#000" stroke-width="2.2" />
<text x="1352.7" y="956.95" >2.0</text>
<line x1="1396.4" y1="889.5" x2="1405.2" y2="889.5" stroke="#000" stroke-width="2.2" />
<text x="1352.83" y="899.31" >2.5</text>
<line x1="1417.4" y1="1177.7" x2="1417.4" y2="1186.9" stroke="#000" stroke-width="2.2" />
<text x="1375.11" y="1216.2" >−1.50</text>
<line x1="1509.28" y1="1177.7" x2="1509.28" y2="1186.9" stroke="#000" stroke-width="2.2" />
<text x="1468.55" y="1216.2" >−0.75</text>
<line x1="1601.15" y1="1177.7" x2="1601.15" y2="1186.9" stroke="#000" stroke-width="2.2" />
<text x="1592.71" y="1216.2" >0</text>
<line x1="1693.03" y1="1177.7" x2="1693.03" y2="1186.9" stroke="#000" stroke-width="2.2" />
<text x="1665.34" y="1216.2" >0.75</text>
<text transform="translate(1309.1 1036.3) rotate(-90)" text-anchor="middle">Binding with mAb S5D2</text>
<text transform="translate(1341.1 1036.2) rotate(-90)" text-anchor="middle">(OD<tspan dy="8.6" font-size="20">450 nm</tspan><tspan dy="-8.6">)</tspan></text>
<text x="1553.2" y="1249.4" text-anchor="middle" >log<tspan dy="9.2" font-size="20.5">10</tspan><tspan dy="-9.2"> antigen</tspan></text>
<text x="1553.2" y="1283" text-anchor="middle" >concentration (µg ml<tspan dy="-9.6" font-size="20">−1</tspan><tspan dy="9.6">)</tspan></text>
<circle cx="1416.77" cy="1171.71" r="7.8" fill="#FF0000"/>
<circle cx="1453.65" cy="1170.78" r="7.8" fill="#FF0000"/>
<circle cx="1490.52" cy="1170.55" r="7.8" fill="#FF0000"/>
<circle cx="1527.4" cy="1170.21" r="7.8" fill="#FF0000"/>
<circle cx="1564.27" cy="1165.71" r="7.8" fill="#FF0000"/>
<circle cx="1601.15" cy="1156.03" r="7.8" fill="#FF0000"/>
<circle cx="1638.03" cy="1125.71" r="7.8" fill="#FF0000"/>
<circle cx="1674.9" cy="1104.61" r="7.8" fill="#FF0000"/>
<circle cx="1416.77" cy="1165.71" r="7.9" fill="#D4D4D4" stroke="#606060" stroke-width="2.7"/>
<circle cx="1453.65" cy="1164.33" r="7.9" fill="#D4D4D4" stroke="#606060" stroke-width="2.7"/>
<circle cx="1490.52" cy="1156.03" r="7.9" fill="#D4D4D4" stroke="#606060" stroke-width="2.7"/>
<circle cx="1527.4" cy="1145.54" r="7.9" fill="#D4D4D4" stroke="#606060" stroke-width="2.7"/>
<circle cx="1564.27" cy="1125.71" r="7.9" fill="#D4D4D4" stroke="#606060" stroke-width="2.7"/>
<circle cx="1601.15" cy="1078.56" r="7.9" fill="#D4D4D4" stroke="#606060" stroke-width="2.7"/>
<circle cx="1638.03" cy="998.21" r="7.9" fill="#D4D4D4" stroke="#606060" stroke-width="2.7"/>
<circle cx="1674.9" cy="941.26" r="7.9" fill="#D4D4D4" stroke="#606060" stroke-width="2.7"/>
<path d="M1416.77 1162.85L1424.47 1170.55L1416.77 1178.25L1409.07 1170.55Z" fill="#0000BE"/>
<path d="M1453.65 1162.85L1461.35 1170.55L1453.65 1178.25L1445.95 1170.55Z" fill="#0000BE"/>
<path d="M1490.52 1162.85L1498.22 1170.55L1490.52 1178.25L1482.82 1170.55Z" fill="#0000BE"/>
<path d="M1527.4 1162.85L1535.1 1170.55L1527.4 1178.25L1519.7 1170.55Z" fill="#0000BE"/>
<path d="M1564.27 1162.85L1571.97 1170.55L1564.27 1178.25L1556.57 1170.55Z" fill="#0000BE"/>
<path d="M1601.15 1162.85L1608.85 1170.55L1601.15 1178.25L1593.45 1170.55Z" fill="#0000BE"/>
<path d="M1638.03 1162.85L1645.73 1170.55L1638.03 1178.25L1630.33 1170.55Z" fill="#0000BE"/>
<path d="M1674.9 1139.34L1682.6 1147.04L1674.9 1154.74L1667.2 1147.04Z" fill="#0000BE"/>
<path d="M1416.77 1163.01 L1418.94 1162.97 L1421.11 1162.93 L1423.28 1162.89 L1425.45 1162.85 L1427.62 1162.8 L1429.78 1162.75 L1431.95 1162.7 L1434.12 1162.64 L1436.29 1162.58 L1438.46 1162.51 L1440.63 1162.45 L1442.8 1162.37 L1444.97 1162.29 L1447.14 1162.21 L1449.31 1162.12 L1451.48 1162.03 L1453.65 1161.93 L1455.81 1161.82 L1457.98 1161.7 L1460.15 1161.58 L1462.32 1161.45 L1464.49 1161.31 L1466.66 1161.16 L1468.83 1161.01 L1471 1160.84 L1473.17 1160.66 L1475.34 1160.47 L1477.51 1160.27 L1479.68 1160.05 L1481.84 1159.82 L1484.01 1159.58 L1486.18 1159.32 L1488.35 1159.04 L1490.52 1158.74 L1492.69 1158.43 L1494.86 1158.09 L1497.03 1157.74 L1499.2 1157.36 L1501.37 1156.96 L1503.54 1156.53 L1505.71 1156.07 L1507.87 1155.59 L1510.04 1155.08 L1512.21 1154.53 L1514.38 1153.95 L1516.55 1153.33 L1518.72 1152.68 L1520.89 1151.99 L1523.06 1151.25 L1525.23 1150.47 L1527.4 1149.64 L1529.57 1148.77 L1531.74 1147.84 L1533.91 1146.85 L1536.07 1145.81 L1538.24 1144.71 L1540.41 1143.55 L1542.58 1142.32 L1544.75 1141.02 L1546.92 1139.65 L1549.09 1138.21 L1551.26 1136.68 L1553.43 1135.08 L1555.6 1133.39 L1557.77 1131.61 L1559.94 1129.74 L1562.1 1127.78 L1564.27 1125.73 L1566.44 1123.57 L1568.61 1121.32 L1570.78 1118.96 L1572.95 1116.5 L1575.12 1113.93 L1577.29 1111.25 L1579.46 1108.46 L1581.63 1105.56 L1583.8 1102.55 L1585.97 1099.44 L1588.13 1096.21 L1590.3 1092.87 L1592.47 1089.43 L1594.64 1085.88 L1596.81 1082.23 L1598.98 1078.49 L1601.15 1074.65 L1603.32 1070.72 L1605.49 1066.71 L1607.66 1062.62 L1609.83 1058.45 L1612 1054.23 L1614.17 1049.94 L1616.33 1045.61 L1618.5 1041.24 L1620.67 1036.83 L1622.84 1032.41 L1625.01 1027.96 L1627.18 1023.52 L1629.35 1019.07 L1631.52 1014.64 L1633.69 1010.24 L1635.86 1005.86 L1638.03 1001.53 L1640.2 997.24 L1642.36 993.01 L1644.53 988.84 L1646.7 984.75 L1648.87 980.73 L1651.04 976.8 L1653.21 972.95 L1655.38 969.2 L1657.55 965.54 L1659.72 961.99 L1661.89 958.54 L1664.06 955.19 L1666.23 951.96 L1668.39 948.83 L1670.56 945.82 L1672.73 942.91 L1674.9 940.12" fill="none" stroke="#606060" stroke-width="3.0" stroke-linejoin="round"/>
<path d="M1416.77 1170.74 L1418.94 1170.74 L1421.11 1170.74 L1423.28 1170.74 L1425.45 1170.74 L1427.62 1170.74 L1429.78 1170.74 L1431.95 1170.74 L1434.12 1170.74 L1436.29 1170.74 L1438.46 1170.73 L1440.63 1170.73 L1442.8 1170.73 L1444.97 1170.73 L1447.14 1170.73 L1449.31 1170.73 L1451.48 1170.73 L1453.65 1170.72 L1455.81 1170.72 L1457.98 1170.72 L1460.15 1170.72 L1462.32 1170.71 L1464.49 1170.71 L1466.66 1170.71 L1468.83 1170.7 L1471 1170.7 L1473.17 1170.7 L1475.34 1170.69 L1477.51 1170.68 L1479.68 1170.68 L1481.84 1170.67 L1484.01 1170.66 L1486.18 1170.65 L1488.35 1170.65 L1490.52 1170.63 L1492.69 1170.62 L1494.86 1170.61 L1497.03 1170.6 L1499.2 1170.58 L1501.37 1170.56 L1503.54 1170.54 L1505.71 1170.52 L1507.87 1170.5 L1510.04 1170.47 L1512.21 1170.44 L1514.38 1170.41 L1516.55 1170.37 L1518.72 1170.33 L1520.89 1170.29 L1523.06 1170.24 L1525.23 1170.19 L1527.4 1170.13 L1529.57 1170.07 L1531.74 1169.99 L1533.91 1169.91 L1536.07 1169.83 L1538.24 1169.73 L1540.41 1169.62 L1542.58 1169.5 L1544.75 1169.37 L1546.92 1169.23 L1549.09 1169.07 L1551.26 1168.89 L1553.43 1168.7 L1555.6 1168.49 L1557.77 1168.25 L1559.94 1167.99 L1562.1 1167.71 L1564.27 1167.4 L1566.44 1167.06 L1568.61 1166.68 L1570.78 1166.27 L1572.95 1165.82 L1575.12 1165.33 L1577.29 1164.8 L1579.46 1164.22 L1581.63 1163.58 L1583.8 1162.9 L1585.97 1162.15 L1588.13 1161.35 L1590.3 1160.48 L1592.47 1159.54 L1594.64 1158.54 L1596.81 1157.46 L1598.98 1156.31 L1601.15 1155.09 L1603.32 1153.79 L1605.49 1152.42 L1607.66 1150.98 L1609.83 1149.47 L1612 1147.89 L1614.17 1146.25 L1616.33 1144.55 L1618.5 1142.8 L1620.67 1141 L1622.84 1139.17 L1625.01 1137.31 L1627.18 1135.43 L1629.35 1133.55 L1631.52 1131.66 L1633.69 1129.79 L1635.86 1127.94 L1638.03 1126.11 L1640.2 1124.33 L1642.36 1122.59 L1644.53 1120.9 L1646.7 1119.27 L1648.87 1117.71 L1651.04 1116.21 L1653.21 1114.79 L1655.38 1113.44 L1657.55 1112.16 L1659.72 1110.95 L1661.89 1109.82 L1664.06 1108.76 L1666.23 1107.77 L1668.39 1106.85 L1670.56 1106 L1672.73 1105.21 L1674.9 1104.48" fill="none" stroke="#FF0000" stroke-width="3.0" stroke-linejoin="round"/>
<path d="M1416.77 1170.55 L1418.94 1170.55 L1421.11 1170.55 L1423.28 1170.55 L1425.45 1170.55 L1427.62 1170.55 L1429.78 1170.55 L1431.95 1170.55 L1434.12 1170.55 L1436.29 1170.55 L1438.46 1170.55 L1440.63 1170.55 L1442.8 1170.55 L1444.97 1170.55 L1447.14 1170.55 L1449.31 1170.55 L1451.48 1170.55 L1453.65 1170.55 L1455.81 1170.55 L1457.98 1170.55 L1460.15 1170.55 L1462.32 1170.55 L1464.49 1170.55 L1466.66 1170.55 L1468.83 1170.55 L1471 1170.55 L1473.17 1170.55 L1475.34 1170.55 L1477.51 1170.55 L1479.68 1170.55 L1481.84 1170.55 L1484.01 1170.55 L1486.18 1170.55 L1488.35 1170.55 L1490.52 1170.55 L1492.69 1170.55 L1494.86 1170.55 L1497.03 1170.55 L1499.2 1170.55 L1501.37 1170.55 L1503.54 1170.55 L1505.71 1170.55 L1507.87 1170.55 L1510.04 1170.55 L1512.21 1170.55 L1514.38 1170.55 L1516.55 1170.55 L1518.72 1170.55 L1520.89 1170.55 L1523.06 1170.55 L1525.23 1170.55 L1527.4 1170.55 L1529.57 1170.55 L1531.74 1170.55 L1533.91 1170.55 L1536.07 1170.55 L1538.24 1170.55 L1540.41 1170.55 L1542.58 1170.55 L1544.75 1170.55 L1546.92 1170.55 L1549.09 1170.55 L1551.26 1170.55 L1553.43 1170.55 L1555.6 1170.55 L1557.77 1170.55 L1559.94 1170.55 L1562.1 1170.55 L1564.27 1170.55 L1566.44 1170.55 L1568.61 1170.55 L1570.78 1170.55 L1572.95 1170.55 L1575.12 1170.55 L1577.29 1170.55 L1579.46 1170.55 L1581.63 1170.55 L1583.8 1170.55 L1585.97 1170.55 L1588.13 1170.55 L1590.3 1170.55 L1592.47 1170.55 L1594.64 1170.55 L1596.81 1170.55 L1598.98 1170.55 L1601.15 1170.54 L1603.32 1170.54 L1605.49 1170.54 L1607.66 1170.53 L1609.83 1170.52 L1612 1170.5 L1614.17 1170.48 L1616.33 1170.45 L1618.5 1170.4 L1620.67 1170.33 L1622.84 1170.24 L1625.01 1170.1 L1627.18 1169.91 L1629.35 1169.63 L1631.52 1169.24 L1633.69 1168.71 L1635.86 1167.98 L1638.03 1167.01 L1640.2 1165.75 L1642.36 1164.19 L1644.53 1162.35 L1646.7 1160.29 L1648.87 1158.12 L1651.04 1155.99 L1653.21 1154.02 L1655.38 1152.32 L1657.55 1150.92 L1659.72 1149.82 L1661.89 1148.98 L1664.06 1148.35 L1666.23 1147.9 L1668.39 1147.57 L1670.56 1147.34 L1672.73 1147.18 L1674.9 1147.07" fill="none" stroke="#0000BE" stroke-width="3.0" stroke-linejoin="round"/>
<path d="M1842.5 889.5V1177.7H2130.32" fill="none" stroke="#000" stroke-width="2.2" stroke-linejoin="miter"/>
<line x1="1833.7" y1="1177.7" x2="1842.5" y2="1177.7" stroke="#000" stroke-width="2.2" />
<text x="1813.75" y="1187.51" >0</text>
<line x1="1833.7" y1="1081.63" x2="1842.5" y2="1081.63" stroke="#000" stroke-width="2.2" />
<text x="1790.12" y="1091.45" >0.5</text>
<line x1="1833.7" y1="985.57" x2="1842.5" y2="985.57" stroke="#000" stroke-width="2.2" />
<text x="1790" y="995.38" >1.0</text>
<line x1="1833.7" y1="889.5" x2="1842.5" y2="889.5" stroke="#000" stroke-width="2.2" />
<text x="1790.12" y="899.19" >1.5</text>
<line x1="1854.7" y1="1177.7" x2="1854.7" y2="1186.9" stroke="#000" stroke-width="2.2" />
<text x="1812.41" y="1216.2" >−1.50</text>
<line x1="1946.58" y1="1177.7" x2="1946.58" y2="1186.9" stroke="#000" stroke-width="2.2" />
<text x="1905.85" y="1216.2" >−0.75</text>
<line x1="2038.45" y1="1177.7" x2="2038.45" y2="1186.9" stroke="#000" stroke-width="2.2" />
<text x="2030.01" y="1216.2" >0</text>
<line x1="2130.32" y1="1177.7" x2="2130.32" y2="1186.9" stroke="#000" stroke-width="2.2" />
<text x="2102.64" y="1216.2" >0.75</text>
<text transform="translate(1742.4 1040.6) rotate(-90)" text-anchor="middle">Binding with mAb S3H3</text>
<text transform="translate(1774.8 1040.7) rotate(-90)" text-anchor="middle">(OD<tspan dy="8.6" font-size="20">450 nm</tspan><tspan dy="-8.6">)</tspan></text>
<text x="1993.3" y="1249.4" text-anchor="middle" >log<tspan dy="9.2" font-size="20.5">10</tspan><tspan dy="-9.2"> antigen</tspan></text>
<text x="1993.3" y="1283" text-anchor="middle" >concentration (µg ml<tspan dy="-9.6" font-size="20">−1</tspan><tspan dy="9.6">)</tspan></text>
<line x1="2112.2" y1="900.1" x2="2112.2" y2="917.4" stroke="#606060" stroke-width="2.3" />
<line x1="2104.4" y1="900.1" x2="2120" y2="900.1" stroke="#606060" stroke-width="2.3" />
<line x1="2104.4" y1="917.4" x2="2120" y2="917.4" stroke="#606060" stroke-width="2.3" />
<line x1="2112.2" y1="920.3" x2="2112.2" y2="974.2" stroke="#0000BE" stroke-width="2.3" />
<line x1="2104.4" y1="920.3" x2="2120" y2="920.3" stroke="#0000BE" stroke-width="2.3" />
<line x1="2104.4" y1="974.2" x2="2120" y2="974.2" stroke="#0000BE" stroke-width="2.3" />
<circle cx="1854.07" cy="1165.02" r="7.8" fill="#FF0000"/>
<circle cx="1890.95" cy="1165.02" r="7.8" fill="#FF0000"/>
<circle cx="1927.82" cy="1165.02" r="7.8" fill="#FF0000"/>
<circle cx="1964.7" cy="1162.71" r="7.8" fill="#FF0000"/>
<circle cx="2001.57" cy="1153.88" r="7.8" fill="#FF0000"/>
<circle cx="2038.45" cy="1129.67" r="7.8" fill="#FF0000"/>
<circle cx="2075.33" cy="1053.39" r="7.8" fill="#FF0000"/>
<circle cx="2112.2" cy="954.06" r="7.8" fill="#FF0000"/>
<circle cx="1854.07" cy="1163.48" r="7.9" fill="#D4D4D4" stroke="#606060" stroke-width="2.7"/>
<circle cx="1890.95" cy="1163.48" r="7.9" fill="#D4D4D4" stroke="#606060" stroke-width="2.7"/>
<circle cx="1927.82" cy="1158.87" r="7.9" fill="#D4D4D4" stroke="#606060" stroke-width="2.7"/>
<circle cx="1964.7" cy="1155.99" r="7.9" fill="#D4D4D4" stroke="#606060" stroke-width="2.7"/>
<circle cx="2001.57" cy="1140.23" r="7.9" fill="#D4D4D4" stroke="#606060" stroke-width="2.7"/>
<circle cx="2038.45" cy="1102.77" r="7.9" fill="#D4D4D4" stroke="#606060" stroke-width="2.7"/>
<circle cx="2075.33" cy="1010.74" r="7.9" fill="#D4D4D4" stroke="#606060" stroke-width="2.7"/>
<circle cx="2112.2" cy="908.52" r="7.9" fill="#D4D4D4" stroke="#606060" stroke-width="2.7"/>
<path d="M1854.07 1155.78L1861.77 1163.48L1854.07 1171.18L1846.37 1163.48Z" fill="#0000BE"/>
<path d="M1890.95 1155.01L1898.65 1162.71L1890.95 1170.41L1883.25 1162.71Z" fill="#0000BE"/>
<path d="M1927.82 1153.48L1935.52 1161.18L1927.82 1168.88L1920.12 1161.18Z" fill="#0000BE"/>
<path d="M1964.7 1145.41L1972.4 1153.11L1964.7 1160.81L1957 1153.11Z" fill="#0000BE"/>
<path d="M2001.57 1131.57L2009.27 1139.27L2001.57 1146.97L1993.87 1139.27Z" fill="#0000BE"/>
<path d="M2038.45 1104.48L2046.15 1112.18L2038.45 1119.88L2030.75 1112.18Z" fill="#0000BE"/>
<path d="M2075.33 1030.13L2083.03 1037.83L2075.33 1045.53L2067.63 1037.83Z" fill="#0000BE"/>
<path d="M2112.2 940.21L2119.9 947.91L2112.2 955.61L2104.5 947.91Z" fill="#0000BE"/>
<path d="M1854.07 1162.19 L1856.24 1162.18 L1858.41 1162.17 L1860.58 1162.16 L1862.75 1162.15 L1864.92 1162.13 L1867.08 1162.12 L1869.25 1162.1 L1871.42 1162.08 L1873.59 1162.06 L1875.76 1162.04 L1877.93 1162.02 L1880.1 1162 L1882.27 1161.97 L1884.44 1161.95 L1886.61 1161.92 L1888.78 1161.89 L1890.95 1161.85 L1893.11 1161.81 L1895.28 1161.78 L1897.45 1161.73 L1899.62 1161.69 L1901.79 1161.64 L1903.96 1161.58 L1906.13 1161.53 L1908.3 1161.47 L1910.47 1161.4 L1912.64 1161.33 L1914.81 1161.25 L1916.98 1161.17 L1919.14 1161.08 L1921.31 1160.98 L1923.48 1160.88 L1925.65 1160.77 L1927.82 1160.65 L1929.99 1160.52 L1932.16 1160.38 L1934.33 1160.23 L1936.5 1160.07 L1938.67 1159.9 L1940.84 1159.71 L1943.01 1159.51 L1945.17 1159.29 L1947.34 1159.06 L1949.51 1158.81 L1951.68 1158.54 L1953.85 1158.25 L1956.02 1157.94 L1958.19 1157.61 L1960.36 1157.25 L1962.53 1156.86 L1964.7 1156.45 L1966.87 1156 L1969.04 1155.52 L1971.21 1155.01 L1973.37 1154.46 L1975.54 1153.86 L1977.71 1153.23 L1979.88 1152.54 L1982.05 1151.81 L1984.22 1151.02 L1986.39 1150.18 L1988.56 1149.28 L1990.73 1148.31 L1992.9 1147.28 L1995.07 1146.17 L1997.24 1144.98 L1999.4 1143.71 L2001.57 1142.36 L2003.74 1140.91 L2005.91 1139.37 L2008.08 1137.72 L2010.25 1135.96 L2012.42 1134.09 L2014.59 1132.1 L2016.76 1129.98 L2018.93 1127.74 L2021.1 1125.35 L2023.27 1122.82 L2025.43 1120.14 L2027.6 1117.3 L2029.77 1114.3 L2031.94 1111.14 L2034.11 1107.8 L2036.28 1104.3 L2038.45 1100.61 L2040.62 1096.74 L2042.79 1092.69 L2044.96 1088.45 L2047.13 1084.03 L2049.3 1079.43 L2051.47 1074.64 L2053.63 1069.67 L2055.8 1064.53 L2057.97 1059.21 L2060.14 1053.73 L2062.31 1048.1 L2064.48 1042.32 L2066.65 1036.41 L2068.82 1030.37 L2070.99 1024.23 L2073.16 1017.99 L2075.33 1011.67 L2077.5 1005.28 L2079.66 998.85 L2081.83 992.4 L2084 985.93 L2086.17 979.46 L2088.34 973.02 L2090.51 966.63 L2092.68 960.29 L2094.85 954.03 L2097.02 947.86 L2099.19 941.79 L2101.36 935.85 L2103.53 930.04 L2105.69 924.37 L2107.86 918.85 L2110.03 913.49 L2112.2 908.31" fill="none" stroke="#606060" stroke-width="3.0" stroke-linejoin="round"/>
<path d="M1854.07 1164.87 L1856.24 1164.87 L1858.41 1164.87 L1860.58 1164.87 L1862.75 1164.86 L1864.92 1164.86 L1867.08 1164.86 L1869.25 1164.85 L1871.42 1164.85 L1873.59 1164.84 L1875.76 1164.84 L1877.93 1164.83 L1880.1 1164.83 L1882.27 1164.82 L1884.44 1164.81 L1886.61 1164.8 L1888.78 1164.79 L1890.95 1164.79 L1893.11 1164.78 L1895.28 1164.76 L1897.45 1164.75 L1899.62 1164.74 L1901.79 1164.72 L1903.96 1164.71 L1906.13 1164.69 L1908.3 1164.67 L1910.47 1164.65 L1912.64 1164.63 L1914.81 1164.6 L1916.98 1164.58 L1919.14 1164.55 L1921.31 1164.51 L1923.48 1164.48 L1925.65 1164.44 L1927.82 1164.4 L1929.99 1164.35 L1932.16 1164.31 L1934.33 1164.25 L1936.5 1164.19 L1938.67 1164.13 L1940.84 1164.06 L1943.01 1163.98 L1945.17 1163.9 L1947.34 1163.81 L1949.51 1163.71 L1951.68 1163.61 L1953.85 1163.49 L1956.02 1163.36 L1958.19 1163.22 L1960.36 1163.07 L1962.53 1162.91 L1964.7 1162.73 L1966.87 1162.54 L1969.04 1162.32 L1971.21 1162.09 L1973.37 1161.84 L1975.54 1161.57 L1977.71 1161.27 L1979.88 1160.95 L1982.05 1160.6 L1984.22 1160.21 L1986.39 1159.8 L1988.56 1159.34 L1990.73 1158.85 L1992.9 1158.32 L1995.07 1157.73 L1997.24 1157.1 L1999.4 1156.42 L2001.57 1155.68 L2003.74 1154.87 L2005.91 1154 L2008.08 1153.05 L2010.25 1152.03 L2012.42 1150.92 L2014.59 1149.72 L2016.76 1148.42 L2018.93 1147.03 L2021.1 1145.52 L2023.27 1143.89 L2025.43 1142.14 L2027.6 1140.26 L2029.77 1138.23 L2031.94 1136.06 L2034.11 1133.74 L2036.28 1131.25 L2038.45 1128.59 L2040.62 1125.75 L2042.79 1122.72 L2044.96 1119.51 L2047.13 1116.1 L2049.3 1112.49 L2051.47 1108.67 L2053.63 1104.65 L2055.8 1100.42 L2057.97 1095.98 L2060.14 1091.34 L2062.31 1086.5 L2064.48 1081.46 L2066.65 1076.24 L2068.82 1070.84 L2070.99 1065.27 L2073.16 1059.56 L2075.33 1053.71 L2077.5 1047.75 L2079.66 1041.69 L2081.83 1035.55 L2084 1029.36 L2086.17 1023.14 L2088.34 1016.91 L2090.51 1010.7 L2092.68 1004.52 L2094.85 998.41 L2097.02 992.38 L2099.19 986.45 L2101.36 980.65 L2103.53 974.98 L2105.69 969.47 L2107.86 964.13 L2110.03 958.97 L2112.2 954" fill="none" stroke="#FF0000" stroke-width="3.0" stroke-linejoin="round"/>
<path d="M1854.07 1162.43 L1856.24 1162.41 L1858.41 1162.39 L1860.58 1162.37 L1862.75 1162.35 L1864.92 1162.32 L1867.08 1162.3 L1869.25 1162.27 L1871.42 1162.24 L1873.59 1162.21 L1875.76 1162.18 L1877.93 1162.14 L1880.1 1162.1 L1882.27 1162.06 L1884.44 1162.02 L1886.61 1161.98 L1888.78 1161.93 L1890.95 1161.87 L1893.11 1161.82 L1895.28 1161.76 L1897.45 1161.7 L1899.62 1161.63 L1901.79 1161.56 L1903.96 1161.48 L1906.13 1161.4 L1908.3 1161.32 L1910.47 1161.23 L1912.64 1161.13 L1914.81 1161.03 L1916.98 1160.91 L1919.14 1160.8 L1921.31 1160.67 L1923.48 1160.54 L1925.65 1160.39 L1927.82 1160.24 L1929.99 1160.08 L1932.16 1159.91 L1934.33 1159.73 L1936.5 1159.53 L1938.67 1159.32 L1940.84 1159.1 L1943.01 1158.87 L1945.17 1158.62 L1947.34 1158.35 L1949.51 1158.07 L1951.68 1157.76 L1953.85 1157.44 L1956.02 1157.1 L1958.19 1156.74 L1960.36 1156.35 L1962.53 1155.94 L1964.7 1155.5 L1966.87 1155.04 L1969.04 1154.54 L1971.21 1154.02 L1973.37 1153.46 L1975.54 1152.87 L1977.71 1152.24 L1979.88 1151.57 L1982.05 1150.86 L1984.22 1150.11 L1986.39 1149.31 L1988.56 1148.47 L1990.73 1147.57 L1992.9 1146.62 L1995.07 1145.61 L1997.24 1144.54 L1999.4 1143.41 L2001.57 1142.21 L2003.74 1140.94 L2005.91 1139.6 L2008.08 1138.19 L2010.25 1136.69 L2012.42 1135.11 L2014.59 1133.45 L2016.76 1131.69 L2018.93 1129.84 L2021.1 1127.89 L2023.27 1125.84 L2025.43 1123.68 L2027.6 1121.41 L2029.77 1119.03 L2031.94 1116.54 L2034.11 1113.92 L2036.28 1111.18 L2038.45 1108.32 L2040.62 1105.33 L2042.79 1102.2 L2044.96 1098.95 L2047.13 1095.56 L2049.3 1092.03 L2051.47 1088.37 L2053.63 1084.57 L2055.8 1080.64 L2057.97 1076.57 L2060.14 1072.37 L2062.31 1068.04 L2064.48 1063.58 L2066.65 1058.99 L2068.82 1054.29 L2070.99 1049.47 L2073.16 1044.55 L2075.33 1039.52 L2077.5 1034.4 L2079.66 1029.19 L2081.83 1023.91 L2084 1018.55 L2086.17 1013.14 L2088.34 1007.68 L2090.51 1002.18 L2092.68 996.66 L2094.85 991.12 L2097.02 985.58 L2099.19 980.04 L2101.36 974.52 L2103.53 969.03 L2105.69 963.58 L2107.86 958.18 L2110.03 952.84 L2112.2 947.57" fill="none" stroke="#0000BE" stroke-width="3.0" stroke-linejoin="round"/>
</svg>
</body></html>
